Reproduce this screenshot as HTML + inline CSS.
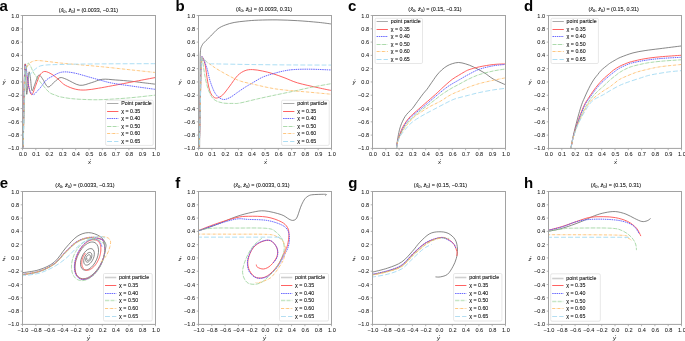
<!DOCTYPE html>
<html><head><meta charset="utf-8"><style>
html,body{margin:0;padding:0;background:#fff;width:685px;height:341px;overflow:hidden;font-family:"Liberation Sans", sans-serif;}
svg{display:block;} .t{will-change:transform;}
</style></head><body>
<svg width="685" height="341" viewBox="0 0 685 341" font-family='"Liberation Sans", sans-serif'><clipPath id="c0"><rect x="22.5" y="15.5" width="133.0" height="132.9"/></clipPath>
<g clip-path="url(#c0)" fill="none" stroke-linejoin="round">
<path d="M23.03,151.72C23.14,145.63 23.48,127.36 23.70,115.18C23.92,102.99 24.14,87.16 24.36,78.63C24.58,70.10 24.81,65.12 25.03,64.01C25.25,62.90 25.43,67.00 25.69,71.98C25.96,76.97 26.27,91.70 26.62,93.91C26.98,96.13 27.42,88.93 27.82,85.27C28.22,81.62 28.57,73.09 29.02,71.98C29.46,70.88 29.99,75.53 30.48,78.63C30.97,81.73 31.28,89.48 31.94,90.59C32.61,91.70 33.38,87.82 34.47,85.27C35.56,82.73 37.13,76.41 38.46,75.30C39.79,74.20 40.90,76.69 42.45,78.63C44.00,80.57 46.00,86.16 47.77,86.93C49.54,87.71 51.09,84.81 53.09,83.28C55.09,81.75 57.52,78.43 59.74,77.76C61.96,77.10 63.06,78.04 66.39,79.29C69.72,80.54 75.48,84.72 79.69,85.27C83.90,85.83 87.89,83.61 91.66,82.61C95.43,81.62 98.31,79.73 102.30,79.29C106.29,78.85 110.81,79.64 115.60,79.96C120.39,80.28 126.59,80.78 131.03,81.22C135.46,81.66 138.12,82.12 142.20,82.61C146.28,83.11 153.28,83.94 155.50,84.21" stroke="#606060" stroke-width="0.75"/>
<path d="M23.03,151.72C23.14,145.63 23.48,127.36 23.70,115.18C23.92,102.99 24.10,87.10 24.36,78.63C24.63,70.16 24.94,65.45 25.29,64.34C25.65,63.23 25.85,67.94 26.49,71.98C27.13,76.02 28.24,84.83 29.15,88.59C30.06,92.36 30.83,95.13 31.94,94.58C33.05,94.02 34.49,88.48 35.80,85.27C37.11,82.06 38.28,77.61 39.79,75.30C41.30,73.00 42.65,71.51 44.84,71.45C47.04,71.40 50.47,73.44 52.96,74.97C55.44,76.50 57.68,78.90 59.74,80.62C61.80,82.34 62.67,83.83 65.33,85.27C67.99,86.71 72.29,88.47 75.70,89.26C79.11,90.05 82.04,90.16 85.81,89.99C89.58,89.82 93.85,88.98 98.31,88.26C102.77,87.54 106.33,86.83 112.54,85.67C118.75,84.51 128.39,82.65 135.55,81.29C142.71,79.92 152.18,78.13 155.50,77.50" stroke="#ff5a5a" stroke-width="0.95"/>
<path d="M23.03,151.72C23.16,145.63 23.59,127.36 23.83,115.18C24.07,102.99 24.21,86.99 24.50,78.63C24.78,70.27 25.12,65.56 25.56,65.01C26.00,64.45 26.67,71.93 27.16,75.30C27.64,78.68 27.93,82.50 28.48,85.27C29.04,88.04 29.64,90.37 30.48,91.92C31.32,93.47 32.43,94.69 33.54,94.58C34.65,94.46 35.93,92.47 37.13,91.25C38.33,90.03 39.17,89.15 40.72,87.27C42.27,85.38 44.40,81.84 46.44,79.96C48.48,78.07 50.76,77.19 52.96,75.97C55.15,74.75 57.37,73.32 59.61,72.65C61.85,71.97 63.71,71.81 66.39,71.92C69.07,72.03 72.15,72.53 75.70,73.31C79.25,74.10 83.68,75.53 87.67,76.63C91.66,77.74 95.49,78.86 99.64,79.96C103.79,81.05 106.56,82.11 112.54,83.21C118.53,84.32 128.39,85.57 135.55,86.60C142.71,87.63 152.18,88.93 155.50,89.39" stroke="#5050ff" stroke-width="0.85" stroke-dasharray="1.5 0.7"/>
<path d="M23.03,151.72C23.21,145.63 23.74,126.80 24.10,115.18C24.45,103.55 24.76,89.70 25.16,81.95C25.56,74.20 26.02,71.78 26.49,68.66C26.96,65.54 27.29,63.65 27.95,63.21C28.62,62.77 29.62,64.54 30.48,66.00C31.34,67.46 32.25,70.32 33.14,71.98C34.03,73.64 34.69,74.40 35.80,75.97C36.91,77.54 38.24,79.42 39.79,81.42C41.34,83.41 43.40,86.01 45.11,87.93C46.82,89.85 48.26,91.70 50.03,92.91C51.80,94.13 54.15,94.61 55.75,95.24C57.35,95.87 56.99,96.14 59.61,96.70C62.22,97.27 66.99,98.15 71.44,98.63C75.90,99.11 81.20,99.39 86.34,99.56C91.48,99.73 95.21,99.90 102.30,99.63C109.39,99.35 120.03,98.65 128.90,97.90C137.77,97.14 151.07,95.57 155.50,95.11" stroke="#8ccc8c" stroke-width="0.72" stroke-dasharray="4 0.6 0.3 0.6"/>
<path d="M23.03,151.72C23.16,145.63 23.56,127.91 23.83,115.18C24.10,102.44 24.38,83.39 24.63,75.30C24.87,67.22 24.98,68.00 25.29,66.67C25.60,65.34 25.96,67.66 26.49,67.33C27.02,67.00 27.80,65.50 28.48,64.67C29.17,63.84 29.62,62.99 30.61,62.35C31.61,61.70 33.12,61.12 34.47,60.82C35.82,60.52 36.29,60.41 38.73,60.55C41.16,60.70 45.38,61.26 49.10,61.68C52.82,62.10 55.53,62.52 61.07,63.08C66.61,63.63 75.48,64.39 82.35,65.01C89.22,65.63 94.54,66.02 102.30,66.80C110.06,67.57 120.03,68.70 128.90,69.66C137.77,70.61 151.07,72.04 155.50,72.51" stroke="#ffbb66" stroke-width="0.82" stroke-dasharray="3.1 0.85 0.35 0.85"/>
<path d="M23.03,151.72C23.16,145.63 23.56,127.91 23.83,115.18C24.10,102.44 24.38,83.50 24.63,75.30C24.87,67.11 24.98,66.22 25.29,66.00C25.60,65.78 25.96,72.20 26.49,73.98C27.02,75.75 27.58,76.92 28.48,76.63C29.39,76.35 30.72,73.58 31.94,72.25C33.16,70.92 34.34,69.73 35.80,68.66C37.26,67.59 38.50,66.45 40.72,65.80C42.94,65.16 45.95,65.02 49.10,64.81C52.25,64.60 55.17,64.65 59.61,64.54C64.04,64.43 68.58,64.25 75.70,64.14C82.82,64.03 93.43,63.94 102.30,63.88C111.17,63.81 120.03,63.78 128.90,63.74C137.77,63.71 151.07,63.69 155.50,63.68" stroke="#a4daf3" stroke-width="0.9" stroke-dasharray="4.9 2.1"/>
</g>
<rect x="22.5" y="15.5" width="133.0" height="132.9" fill="none" stroke="#a2a2a2" stroke-width="1.0"/>
<path d="M22.50,148.4v1.8M35.80,148.4v1.8M49.10,148.4v1.8M62.40,148.4v1.8M75.70,148.4v1.8M89.00,148.4v1.8M102.30,148.4v1.8M115.60,148.4v1.8M128.90,148.4v1.8M142.20,148.4v1.8M155.50,148.4v1.8M22.5,15.50h-1.8M22.5,28.79h-1.8M22.5,42.08h-1.8M22.5,55.37h-1.8M22.5,68.66h-1.8M22.5,81.95h-1.8M22.5,95.24h-1.8M22.5,108.53h-1.8M22.5,121.82h-1.8M22.5,135.11h-1.8M22.5,148.40h-1.8" stroke="#a2a2a2" stroke-width="0.8"/>
<rect x="105.6" y="100.2" width="47.6" height="45.2" rx="1.3" fill="#fff" fill-opacity="0.85" stroke="#d6d6d6" stroke-width="0.6"/>
<path d="M107.10,103.50h11.3" stroke="#a0a0a0" stroke-width="0.9"/>
<path d="M107.10,111.50h11.3" stroke="#ff5a5a" stroke-width="0.95"/>
<path d="M107.10,118.50h11.3" stroke="#5050ff" stroke-width="0.85" stroke-dasharray="1.5 0.7"/>
<path d="M107.10,126.50h11.3" stroke="#8ccc8c" stroke-width="0.72" stroke-dasharray="4 0.6 0.3 0.6"/>
<path d="M107.10,133.50h11.3" stroke="#ffbb66" stroke-width="0.82" stroke-dasharray="3.1 0.85 0.35 0.85"/>
<path d="M107.10,141.50h11.3" stroke="#a4daf3" stroke-width="0.9" stroke-dasharray="4.9 2.1"/>
<clipPath id="c1"><rect x="198.5" y="15.5" width="133.0" height="132.9"/></clipPath>
<g clip-path="url(#c1)" fill="none" stroke-linejoin="round">
<path d="M199.56,151.72C199.61,145.63 199.74,127.91 199.83,115.18C199.92,102.44 200.01,85.82 200.10,75.30C200.18,64.79 200.05,57.08 200.36,52.11C200.67,47.15 201.23,47.24 201.96,45.54C202.69,43.83 203.29,43.46 204.75,41.88C206.21,40.30 208.52,38.23 210.74,36.03C212.95,33.84 215.61,30.56 218.05,28.72C220.49,26.89 222.68,26.04 225.37,25.00C228.05,23.96 230.73,23.14 234.14,22.48C237.56,21.81 241.81,21.40 245.85,21.02C249.88,20.63 253.14,20.34 258.35,20.15C263.56,19.96 270.56,19.80 277.10,19.89C283.64,19.97 290.74,20.27 297.58,20.68C304.43,21.09 312.55,21.79 318.20,22.34C323.85,22.90 329.28,23.73 331.50,24.01" stroke="#606060" stroke-width="0.75"/>
<path d="M199.16,151.72C199.32,145.63 199.81,127.91 200.10,115.18C200.38,102.44 200.63,84.61 200.89,75.30C201.16,66.00 201.45,62.40 201.69,59.36C201.94,56.31 201.80,56.23 202.36,57.03C202.91,57.83 204.13,60.02 205.02,64.14C205.90,68.26 206.79,77.05 207.68,81.75C208.56,86.45 209.30,89.74 210.34,92.32C211.38,94.90 212.75,96.30 213.93,97.23C215.10,98.16 215.92,98.29 217.39,97.90C218.85,97.51 220.64,96.88 222.71,94.91C224.77,92.94 227.27,89.29 229.75,86.07C232.24,82.85 235.05,78.14 237.60,75.57C240.15,73.00 242.57,71.65 245.05,70.65C247.53,69.66 249.62,69.53 252.50,69.59C255.38,69.65 258.93,70.30 262.34,70.99C265.75,71.67 269.21,72.55 272.98,73.71C276.75,74.87 280.85,76.43 284.95,77.96C289.05,79.49 292.04,81.25 297.58,82.88C303.13,84.51 312.55,86.46 318.20,87.73C323.85,89.00 329.28,90.06 331.50,90.52" stroke="#ff5a5a" stroke-width="0.95"/>
<path d="M199.16,151.72C199.32,145.63 199.81,127.91 200.10,115.18C200.38,102.44 200.63,84.61 200.89,75.30C201.16,66.00 201.43,62.35 201.69,59.36C201.96,56.37 201.65,55.99 202.49,57.36C203.33,58.74 205.44,63.53 206.75,67.60C208.05,71.66 208.85,77.34 210.34,81.75C211.82,86.16 213.60,91.11 215.66,94.04C217.72,96.98 220.36,98.76 222.71,99.36C225.06,99.96 227.27,98.81 229.75,97.63C232.24,96.46 235.05,94.04 237.60,92.32C240.15,90.59 242.57,88.84 245.05,87.27C247.53,85.69 249.62,84.54 252.50,82.88C255.38,81.22 258.93,78.83 262.34,77.30C265.75,75.77 269.43,74.76 272.98,73.71C276.53,72.66 280.21,71.67 283.62,70.99C287.03,70.30 289.07,69.89 293.46,69.59C297.85,69.29 303.61,69.13 309.95,69.19C316.29,69.26 327.91,69.86 331.50,69.99" stroke="#5050ff" stroke-width="0.85" stroke-dasharray="1.5 0.7"/>
<path d="M199.16,151.72C199.32,145.63 199.81,127.91 200.10,115.18C200.38,102.44 200.63,84.16 200.89,75.30C201.16,66.44 201.47,64.78 201.69,62.02C201.91,59.25 201.67,56.29 202.22,58.69C202.78,61.10 203.95,71.13 205.02,76.43C206.08,81.74 207.12,86.70 208.61,90.52C210.09,94.34 211.58,97.29 213.93,99.36C216.28,101.43 219.49,102.27 222.71,102.95C225.92,103.62 230.33,103.40 233.21,103.41C236.09,103.42 235.94,103.77 240.00,103.01C244.05,102.26 251.68,100.22 257.55,98.89C263.43,97.57 269.37,96.29 275.24,95.04C281.12,93.79 286.75,92.68 292.80,91.39C298.85,90.09 305.10,88.56 311.55,87.27C318.00,85.97 328.18,84.22 331.50,83.61" stroke="#8ccc8c" stroke-width="0.72" stroke-dasharray="4 0.6 0.3 0.6"/>
<path d="M199.16,151.72C199.32,145.63 199.81,127.91 200.10,115.18C200.38,102.44 200.63,84.50 200.89,75.30C201.16,66.11 201.47,62.90 201.69,60.02C201.91,57.14 201.07,57.50 202.22,58.03C203.38,58.56 205.79,61.16 208.61,63.21C211.42,65.26 214.28,67.52 219.12,70.32C223.95,73.12 232.04,77.74 237.60,80.02C243.17,82.30 245.91,82.49 252.50,84.01C259.08,85.53 267.53,87.75 277.10,89.13C286.68,90.50 300.89,91.40 309.95,92.25C319.02,93.10 327.91,93.91 331.50,94.24" stroke="#ffbb66" stroke-width="0.82" stroke-dasharray="3.1 0.85 0.35 0.85"/>
<path d="M199.16,151.72C199.32,145.63 199.81,127.91 200.10,115.18C200.38,102.44 200.63,84.61 200.89,75.30C201.16,66.00 201.45,62.35 201.69,59.36C201.94,56.37 201.51,56.88 202.36,57.36C203.20,57.85 205.50,61.22 206.75,62.28C207.99,63.34 208.34,63.48 209.81,63.74C211.27,64.01 208.54,63.74 215.52,63.88C222.51,64.01 239.02,64.36 251.70,64.54C264.38,64.72 278.30,64.85 291.60,64.94C304.90,65.03 324.85,65.05 331.50,65.07" stroke="#a4daf3" stroke-width="0.9" stroke-dasharray="4.9 2.1"/>
</g>
<rect x="198.5" y="15.5" width="133.0" height="132.9" fill="none" stroke="#a2a2a2" stroke-width="1.0"/>
<path d="M198.50,148.4v1.8M211.80,148.4v1.8M225.10,148.4v1.8M238.40,148.4v1.8M251.70,148.4v1.8M265.00,148.4v1.8M278.30,148.4v1.8M291.60,148.4v1.8M304.90,148.4v1.8M318.20,148.4v1.8M331.50,148.4v1.8M198.5,15.50h-1.8M198.5,28.79h-1.8M198.5,42.08h-1.8M198.5,55.37h-1.8M198.5,68.66h-1.8M198.5,81.95h-1.8M198.5,95.24h-1.8M198.5,108.53h-1.8M198.5,121.82h-1.8M198.5,135.11h-1.8M198.5,148.40h-1.8" stroke="#a2a2a2" stroke-width="0.8"/>
<rect x="281.6" y="100.2" width="47.6" height="45.2" rx="1.3" fill="#fff" fill-opacity="0.85" stroke="#d6d6d6" stroke-width="0.6"/>
<path d="M283.10,103.50h11.3" stroke="#a0a0a0" stroke-width="0.9"/>
<path d="M283.10,111.50h11.3" stroke="#ff5a5a" stroke-width="0.95"/>
<path d="M283.10,118.50h11.3" stroke="#5050ff" stroke-width="0.85" stroke-dasharray="1.5 0.7"/>
<path d="M283.10,126.50h11.3" stroke="#8ccc8c" stroke-width="0.72" stroke-dasharray="4 0.6 0.3 0.6"/>
<path d="M283.10,133.50h11.3" stroke="#ffbb66" stroke-width="0.82" stroke-dasharray="3.1 0.85 0.35 0.85"/>
<path d="M283.10,141.50h11.3" stroke="#a4daf3" stroke-width="0.9" stroke-dasharray="4.9 2.1"/>
<clipPath id="c2"><rect x="372.5" y="15.5" width="133.0" height="132.9"/></clipPath>
<g clip-path="url(#c2)" fill="none" stroke-linejoin="round">
<path d="M396.44,149.06C396.57,147.85 396.84,144.50 397.24,141.75C397.64,139.01 398.30,135.13 398.83,132.58C399.37,130.04 399.81,128.37 400.43,126.47C401.05,124.58 401.78,122.88 402.56,121.22C403.33,119.56 404.13,117.94 405.08,116.50C406.04,115.06 407.06,113.91 408.28,112.58C409.50,111.25 411.11,110.04 412.40,108.53C413.69,107.02 414.88,105.07 415.99,103.55C417.10,102.02 417.79,101.08 419.05,99.36C420.31,97.64 422.24,94.93 423.57,93.25C424.90,91.56 425.97,90.63 427.03,89.26C428.09,87.89 428.85,86.61 429.96,85.01C431.06,83.40 432.51,81.30 433.68,79.62C434.85,77.95 435.68,76.58 437.00,74.97C438.33,73.37 440.00,71.48 441.66,69.99C443.32,68.49 445.21,67.05 446.98,66.00C448.75,64.95 450.37,64.26 452.30,63.68C454.23,63.09 456.33,62.45 458.55,62.48C460.77,62.51 463.10,63.12 465.60,63.88C468.10,64.63 470.43,65.49 473.58,67.00C476.73,68.50 481.21,70.91 484.49,72.91C487.77,74.92 489.76,77.04 493.26,79.03C496.77,81.01 503.46,83.84 505.50,84.81" stroke="#606060" stroke-width="0.75"/>
<path d="M396.44,149.06C396.62,147.85 396.95,144.19 397.50,141.75C398.06,139.32 398.94,136.77 399.76,134.45C400.59,132.12 401.32,130.00 402.43,127.80C403.53,125.60 405.15,123.04 406.42,121.22C407.68,119.41 408.74,118.24 410.01,116.90C411.27,115.56 411.56,115.35 414.00,113.18C416.43,111.01 421.09,106.98 424.64,103.88C428.18,100.78 432.44,97.12 435.28,94.58C438.11,92.03 439.84,90.28 441.66,88.59C443.48,86.91 444.41,86.03 446.18,84.48C447.96,82.92 450.22,80.82 452.30,79.29C454.38,77.76 456.69,76.52 458.68,75.30C460.68,74.09 462.54,72.92 464.27,71.98C466.00,71.04 466.51,70.52 469.06,69.66C471.61,68.79 475.53,67.65 479.56,66.80C483.60,65.95 488.94,65.03 493.26,64.54C497.59,64.05 503.46,63.99 505.50,63.88" stroke="#ff5a5a" stroke-width="0.95"/>
<path d="M396.44,149.06C396.62,147.85 396.93,144.08 397.50,141.75C398.08,139.43 399.01,137.33 399.90,135.11C400.78,132.90 401.67,130.68 402.82,128.47C403.98,126.25 405.44,123.70 406.81,121.82C408.19,119.94 409.70,118.55 411.07,117.17C412.44,115.78 412.62,115.56 415.06,113.51C417.50,111.46 421.93,108.03 425.70,104.88C429.47,101.72 433.90,97.68 437.67,94.58C441.44,91.47 444.61,88.79 448.31,86.27C452.01,83.74 456.56,81.36 459.88,79.42C463.21,77.49 465.05,76.32 468.26,74.64C471.47,72.96 475.00,70.80 479.17,69.32C483.33,67.85 488.88,66.62 493.26,65.80C497.65,64.98 503.46,64.64 505.50,64.41" stroke="#5050ff" stroke-width="0.85" stroke-dasharray="1.5 0.7"/>
<path d="M396.44,149.06C396.62,147.85 396.91,144.08 397.50,141.75C398.10,139.43 399.10,137.21 400.03,135.11C400.96,133.01 401.92,131.12 403.09,129.13C404.26,127.14 405.53,125.03 407.08,123.15C408.63,121.27 410.40,119.72 412.40,117.83C414.39,115.95 416.83,113.68 419.05,111.85C421.27,110.03 423.35,108.64 425.70,106.87C428.05,105.10 430.49,103.27 433.15,101.22C435.81,99.17 438.69,96.68 441.66,94.58C444.63,92.47 447.93,90.39 450.97,88.59C454.01,86.80 457.00,85.36 459.88,83.81C462.76,82.26 465.05,80.82 468.26,79.29C471.47,77.76 475.00,76.02 479.17,74.64C483.33,73.26 488.88,71.93 493.26,70.99C497.65,70.04 503.46,69.32 505.50,68.99" stroke="#8ccc8c" stroke-width="0.72" stroke-dasharray="4 0.6 0.3 0.6"/>
<path d="M396.44,149.06C396.64,147.85 396.99,144.08 397.64,141.75C398.28,139.43 399.28,137.21 400.30,135.11C401.32,133.01 402.40,131.12 403.75,129.13C405.11,127.14 406.70,125.14 408.41,123.15C410.12,121.16 412.00,118.94 414.00,117.17C415.99,115.40 417.72,114.29 420.38,112.52C423.04,110.74 426.61,108.42 429.96,106.54C433.30,104.65 437.05,103.16 440.46,101.22C443.88,99.28 447.20,96.65 450.44,94.91C453.67,93.17 456.91,92.06 459.88,90.79C462.85,89.51 465.05,88.46 468.26,87.27C471.47,86.07 475.00,84.77 479.17,83.61C483.33,82.45 488.88,81.25 493.26,80.29C497.65,79.33 503.46,78.24 505.50,77.83" stroke="#ffbb66" stroke-width="0.82" stroke-dasharray="3.1 0.85 0.35 0.85"/>
<path d="M396.44,149.06C396.66,147.85 397.10,143.97 397.77,141.75C398.44,139.54 399.32,137.66 400.43,135.77C401.54,133.89 402.98,132.23 404.42,130.46C405.86,128.69 407.48,126.75 409.07,125.14C410.67,123.54 411.67,122.48 414.00,120.82C416.32,119.16 419.85,117.01 423.04,115.18C426.23,113.34 429.38,111.79 433.15,109.79C436.92,107.80 442.01,105.03 445.65,103.21C449.29,101.40 451.13,100.22 454.96,98.89C458.79,97.57 464.62,96.29 468.66,95.24C472.69,94.19 475.07,93.47 479.17,92.58C483.27,91.70 488.88,90.63 493.26,89.92C497.65,89.22 503.46,88.59 505.50,88.33" stroke="#a4daf3" stroke-width="0.9" stroke-dasharray="4.9 2.1"/>
</g>
<rect x="372.5" y="15.5" width="133.0" height="132.9" fill="none" stroke="#a2a2a2" stroke-width="1.0"/>
<path d="M372.50,148.4v1.8M385.80,148.4v1.8M399.10,148.4v1.8M412.40,148.4v1.8M425.70,148.4v1.8M439.00,148.4v1.8M452.30,148.4v1.8M465.60,148.4v1.8M478.90,148.4v1.8M492.20,148.4v1.8M505.50,148.4v1.8M372.5,15.50h-1.8M372.5,28.79h-1.8M372.5,42.08h-1.8M372.5,55.37h-1.8M372.5,68.66h-1.8M372.5,81.95h-1.8M372.5,95.24h-1.8M372.5,108.53h-1.8M372.5,121.82h-1.8M372.5,135.11h-1.8M372.5,148.40h-1.8" stroke="#a2a2a2" stroke-width="0.8"/>
<rect x="375.1" y="18.3" width="47.4" height="45.2" rx="1.3" fill="#fff" fill-opacity="0.85" stroke="#d6d6d6" stroke-width="0.6"/>
<path d="M376.60,21.50h11.3" stroke="#a0a0a0" stroke-width="0.9"/>
<path d="M376.60,29.50h11.3" stroke="#ff5a5a" stroke-width="0.95"/>
<path d="M376.60,36.50h11.3" stroke="#5050ff" stroke-width="0.85" stroke-dasharray="1.5 0.7"/>
<path d="M376.60,44.50h11.3" stroke="#8ccc8c" stroke-width="0.72" stroke-dasharray="4 0.6 0.3 0.6"/>
<path d="M376.60,51.50h11.3" stroke="#ffbb66" stroke-width="0.82" stroke-dasharray="3.1 0.85 0.35 0.85"/>
<path d="M376.60,59.50h11.3" stroke="#a4daf3" stroke-width="0.9" stroke-dasharray="4.9 2.1"/>
<clipPath id="c3"><rect x="548.5" y="15.5" width="133.0" height="132.9"/></clipPath>
<g clip-path="url(#c3)" fill="none" stroke-linejoin="round">
<path d="M570.84,149.06C571.11,147.51 571.89,142.64 572.44,139.76C572.99,136.88 573.55,134.45 574.17,131.79C574.79,129.13 575.39,126.80 576.16,123.81C576.94,120.82 577.89,117.10 578.82,113.85C579.75,110.59 580.82,106.94 581.75,104.28C582.68,101.62 583.52,99.95 584.41,97.90C585.30,95.85 586.07,94.09 587.07,91.98C588.07,89.88 589.22,87.42 590.39,85.27C591.57,83.12 592.90,80.86 594.12,79.09C595.34,77.32 596.54,76.10 597.71,74.64C598.88,73.18 599.53,71.93 601.17,70.32C602.81,68.72 606.04,66.22 607.55,65.01C609.06,63.79 608.93,63.84 610.21,63.01C611.50,62.18 613.51,60.99 615.27,60.02C617.02,59.06 617.77,58.42 620.72,57.23C623.67,56.05 628.90,54.02 632.96,52.91C637.01,51.80 640.56,51.29 645.06,50.59C649.56,49.88 653.88,49.43 659.95,48.66C666.03,47.88 677.91,46.39 681.50,45.93" stroke="#606060" stroke-width="0.75"/>
<path d="M570.84,149.06C571.11,147.62 571.84,143.19 572.44,140.43C573.04,137.66 573.70,135.11 574.43,132.45C575.17,129.79 575.83,127.47 576.83,124.48C577.83,121.49 579.11,117.88 580.42,114.51C581.73,111.14 583.35,106.99 584.68,104.28C586.01,101.56 587.23,100.08 588.40,98.23C589.57,96.38 590.51,94.95 591.73,93.18C592.94,91.41 594.36,89.36 595.72,87.60C597.07,85.84 598.40,84.22 599.84,82.61C601.28,81.01 602.79,79.44 604.36,77.96C605.93,76.49 607.73,75.11 609.28,73.78C610.83,72.45 612.01,71.20 613.67,69.99C615.33,68.78 617.46,67.51 619.26,66.53C621.05,65.56 622.43,64.95 624.44,64.14C626.46,63.33 627.92,62.59 631.36,61.68C634.79,60.77 640.29,59.50 645.06,58.69C649.82,57.88 653.88,57.41 659.95,56.83C666.03,56.26 677.91,55.50 681.50,55.24" stroke="#ff5a5a" stroke-width="0.95"/>
<path d="M570.84,149.06C571.11,147.62 571.82,143.19 572.44,140.43C573.06,137.66 573.79,135.11 574.57,132.45C575.34,129.79 576.05,127.47 577.10,124.48C578.14,121.49 579.47,117.88 580.82,114.51C582.17,111.14 583.83,106.94 585.21,104.28C586.58,101.62 587.82,100.35 589.07,98.56C590.31,96.78 591.44,95.24 592.66,93.58C593.88,91.92 594.98,90.31 596.38,88.59C597.78,86.88 599.48,84.88 601.03,83.28C602.59,81.67 604.14,80.34 605.69,78.96C607.24,77.58 608.79,76.25 610.35,74.97C611.90,73.70 613.51,72.43 615.00,71.32C616.49,70.21 617.68,69.25 619.26,68.33C620.83,67.41 622.43,66.67 624.44,65.80C626.46,64.94 627.92,64.05 631.36,63.14C634.79,62.24 640.29,61.12 645.06,60.35C649.82,59.59 653.88,59.08 659.95,58.56C666.03,58.04 677.91,57.45 681.50,57.23" stroke="#5050ff" stroke-width="0.85" stroke-dasharray="1.5 0.7"/>
<path d="M570.84,149.06C571.11,147.62 571.80,143.19 572.44,140.43C573.08,137.66 573.86,135.11 574.70,132.45C575.54,129.79 576.32,127.47 577.49,124.48C578.67,121.49 580.15,117.88 581.75,114.51C583.35,111.14 585.30,107.21 587.07,104.28C588.84,101.34 590.62,99.07 592.39,96.90C594.16,94.73 595.85,93.05 597.71,91.25C599.57,89.46 601.57,87.96 603.56,86.14C605.56,84.31 607.77,81.98 609.68,80.29C611.59,78.59 613.40,77.24 615.00,75.97C616.60,74.70 617.68,73.70 619.26,72.65C620.83,71.59 622.43,70.65 624.44,69.66C626.46,68.66 627.92,67.72 631.36,66.67C634.79,65.61 640.29,64.23 645.06,63.34C649.82,62.46 653.88,61.95 659.95,61.35C666.03,60.75 677.91,60.02 681.50,59.76" stroke="#8ccc8c" stroke-width="0.72" stroke-dasharray="4 0.6 0.3 0.6"/>
<path d="M570.84,149.06C571.11,147.62 571.78,143.19 572.44,140.43C573.11,137.66 573.95,135.11 574.83,132.45C575.72,129.79 576.50,127.47 577.76,124.48C579.02,121.49 580.69,117.88 582.41,114.51C584.14,111.14 586.63,106.66 588.13,104.28C589.64,101.90 590.08,101.62 591.46,100.22C592.83,98.83 594.36,97.48 596.38,95.90C598.40,94.33 601.26,92.34 603.56,90.79C605.87,89.24 607.60,88.46 610.21,86.60C612.83,84.74 616.33,81.45 619.26,79.62C622.18,77.80 624.93,76.86 627.77,75.64C630.61,74.42 633.40,73.27 636.28,72.31C639.16,71.36 641.11,70.84 645.06,69.92C649.00,69.00 653.88,67.71 659.95,66.80C666.03,65.89 677.91,64.86 681.50,64.47" stroke="#ffbb66" stroke-width="0.82" stroke-dasharray="3.1 0.85 0.35 0.85"/>
<path d="M570.84,149.06C571.11,147.62 571.75,143.19 572.44,140.43C573.13,137.66 574.04,135.11 574.97,132.45C575.90,129.79 576.67,127.47 578.03,124.48C579.38,121.49 581.17,117.88 583.08,114.51C584.99,111.14 587.62,106.77 589.46,104.28C591.30,101.79 592.52,100.79 594.12,99.56C595.72,98.33 597.47,97.73 599.04,96.90C600.61,96.07 601.70,95.63 603.56,94.58C605.42,93.52 607.60,92.08 610.21,90.59C612.83,89.09 616.33,87.00 619.26,85.60C622.18,84.21 624.04,83.54 627.77,82.22C631.49,80.89 637.79,78.84 641.60,77.63C645.41,76.42 646.21,75.91 650.64,74.97C655.08,74.03 663.06,72.70 668.20,71.98C673.34,71.26 679.28,70.88 681.50,70.65" stroke="#a4daf3" stroke-width="0.9" stroke-dasharray="4.9 2.1"/>
</g>
<rect x="548.5" y="15.5" width="133.0" height="132.9" fill="none" stroke="#a2a2a2" stroke-width="1.0"/>
<path d="M548.50,148.4v1.8M561.80,148.4v1.8M575.10,148.4v1.8M588.40,148.4v1.8M601.70,148.4v1.8M615.00,148.4v1.8M628.30,148.4v1.8M641.60,148.4v1.8M654.90,148.4v1.8M668.20,148.4v1.8M681.50,148.4v1.8M548.5,15.50h-1.8M548.5,28.79h-1.8M548.5,42.08h-1.8M548.5,55.37h-1.8M548.5,68.66h-1.8M548.5,81.95h-1.8M548.5,95.24h-1.8M548.5,108.53h-1.8M548.5,121.82h-1.8M548.5,135.11h-1.8M548.5,148.40h-1.8" stroke="#a2a2a2" stroke-width="0.8"/>
<rect x="551.0" y="18.3" width="47.4" height="45.2" rx="1.3" fill="#fff" fill-opacity="0.85" stroke="#d6d6d6" stroke-width="0.6"/>
<path d="M552.50,21.50h11.3" stroke="#a0a0a0" stroke-width="0.9"/>
<path d="M552.50,29.50h11.3" stroke="#ff5a5a" stroke-width="0.95"/>
<path d="M552.50,36.50h11.3" stroke="#5050ff" stroke-width="0.85" stroke-dasharray="1.5 0.7"/>
<path d="M552.50,44.50h11.3" stroke="#8ccc8c" stroke-width="0.72" stroke-dasharray="4 0.6 0.3 0.6"/>
<path d="M552.50,51.50h11.3" stroke="#ffbb66" stroke-width="0.82" stroke-dasharray="3.1 0.85 0.35 0.85"/>
<path d="M552.50,59.50h11.3" stroke="#a4daf3" stroke-width="0.9" stroke-dasharray="4.9 2.1"/>
<clipPath id="c4"><rect x="22.5" y="191.5" width="133.0" height="132.89999999999998"/></clipPath>
<g clip-path="url(#c4)" fill="none" stroke-linejoin="round">
<path d="M21.17,272.90C24.14,272.38 33.47,271.57 38.99,269.78C44.51,267.98 49.83,265.78 54.29,262.14C58.74,258.49 61.92,252.20 65.72,247.92C69.53,243.63 73.28,238.97 77.10,236.42C80.91,233.87 84.79,232.63 88.60,232.63C92.41,232.63 97.14,234.60 99.97,236.42C102.81,238.24 104.70,241.45 105.62,243.54C106.55,245.63 105.71,247.12 105.52,248.98C105.32,250.85 104.94,252.81 104.43,254.72C103.93,256.62 103.25,258.58 102.48,260.41C101.70,262.25 100.78,264.07 99.79,265.74C98.81,267.41 97.69,269.00 96.56,270.41C95.43,271.82 94.20,273.11 92.99,274.18C91.78,275.26 90.51,276.18 89.30,276.88C88.08,277.59 86.85,278.10 85.69,278.40C84.54,278.70 83.41,278.79 82.39,278.69C81.36,278.58 80.39,278.26 79.55,277.78C78.71,277.30 77.95,276.60 77.32,275.78C76.70,274.96 76.19,273.95 75.82,272.85C75.44,271.75 75.20,270.48 75.08,269.18C74.97,267.88 74.99,266.45 75.13,265.02C75.27,263.59 75.55,262.08 75.93,260.62C76.31,259.16 76.82,257.66 77.41,256.25C77.99,254.83 78.69,253.43 79.44,252.14C80.19,250.86 81.04,249.62 81.91,248.53C82.77,247.44 83.71,246.44 84.64,245.60C85.57,244.76 86.54,244.04 87.47,243.49C88.41,242.94 89.36,242.53 90.24,242.29C91.13,242.05 92.00,241.96 92.80,242.03C93.59,242.09 94.34,242.32 94.99,242.68C95.65,243.04 96.24,243.56 96.72,244.18C97.21,244.80 97.61,245.57 97.90,246.41C98.20,247.24 98.40,248.21 98.49,249.20C98.59,250.20 98.58,251.29 98.48,252.38C98.38,253.47 98.17,254.63 97.89,255.75C97.61,256.87 97.22,258.03 96.78,259.11C96.34,260.20 95.80,261.28 95.23,262.28C94.66,263.27 94.02,264.22 93.35,265.07C92.69,265.91 91.97,266.69 91.26,267.34C90.55,267.99 89.81,268.55 89.09,268.99C88.37,269.42 87.64,269.74 86.96,269.94C86.28,270.14 85.60,270.21 84.99,270.17C84.38,270.13 83.80,269.97 83.29,269.70C82.79,269.43 82.33,269.04 81.95,268.58C81.57,268.11 81.26,267.53 81.02,266.89C80.79,266.26 80.63,265.52 80.55,264.76C80.47,264.00 80.47,263.17 80.54,262.33C80.61,261.50 80.76,260.61 80.97,259.75C81.19,258.89 81.47,258.00 81.81,257.17C82.14,256.33 82.55,255.50 82.98,254.73C83.42,253.96 83.91,253.23 84.42,252.57C84.92,251.92 85.47,251.32 86.02,250.81C86.56,250.30 87.13,249.86 87.68,249.52C88.23,249.18 88.80,248.93 89.32,248.77C89.85,248.61 90.37,248.54 90.84,248.57C91.31,248.59 91.76,248.71 92.15,248.91C92.55,249.10 92.90,249.40 93.20,249.75C93.49,250.10 93.74,250.54 93.92,251.02C94.11,251.51 94.23,252.06 94.30,252.64C94.37,253.22 94.37,253.86 94.32,254.50C94.27,255.14 94.16,255.82 94.01,256.48C93.85,257.14 93.63,257.82 93.38,258.47C93.12,259.11 92.82,259.75 92.48,260.34C92.15,260.93 91.78,261.50 91.39,262.01C91.01,262.51 90.59,262.98 90.17,263.38C89.75,263.77 89.31,264.11 88.89,264.38C88.47,264.65 88.04,264.85 87.63,264.98C87.23,265.11 86.83,265.16 86.46,265.15C86.10,265.14 85.75,265.05 85.45,264.91C85.14,264.76 84.86,264.54 84.63,264.28C84.40,264.01 84.21,263.68 84.07,263.31C83.92,262.95 83.82,262.52 83.76,262.08C83.71,261.64 83.70,261.15 83.73,260.66C83.77,260.17 83.85,259.65 83.97,259.14C84.09,258.64 84.25,258.11 84.44,257.62C84.63,257.12 84.87,256.63 85.12,256.17C85.37,255.72 85.66,255.28 85.95,254.89C86.24,254.50 86.57,254.13 86.89,253.83C87.20,253.52 87.54,253.25 87.87,253.04C88.19,252.83 88.52,252.67 88.83,252.57C89.15,252.47 89.45,252.42 89.74,252.42C90.02,252.43 90.29,252.49 90.52,252.60C90.76,252.70 90.97,252.87 91.15,253.07C91.33,253.27 91.48,253.52 91.60,253.80C91.71,254.08 91.79,254.40 91.84,254.74C91.88,255.07 91.89,255.45 91.87,255.82C91.85,256.20 91.79,256.59 91.70,256.98C91.61,257.37 91.49,257.77 91.34,258.15C91.20,258.54 91.02,258.92 90.83,259.27C90.64,259.62 90.42,259.96 90.20,260.26C89.97,260.56 89.72,260.84 89.48,261.08C89.24,261.32 88.98,261.53 88.73,261.69C88.48,261.86 88.22,261.99 87.98,262.07C87.74,262.15 87.51,262.19 87.29,262.19C87.07,262.19 86.86,262.15 86.68,262.07C86.50,261.99 86.33,261.87 86.19,261.72C86.05,261.57 85.93,261.38 85.84,261.16C85.75,260.95 85.69,260.71 85.65,260.45C85.62,260.19 85.61,259.91 85.62,259.62C85.64,259.34 85.68,259.03 85.75,258.73C85.81,258.43 85.90,258.12 86.01,257.83C86.12,257.54 86.26,257.25 86.40,256.97C86.55,256.70 86.71,256.44 86.88,256.21C87.06,255.97 87.24,255.76 87.43,255.57C87.62,255.38 87.82,255.22 88.01,255.09C88.20,254.96 88.40,254.86 88.58,254.80C88.77,254.73 88.95,254.70 89.12,254.69C89.28,254.69 89.44,254.72 89.59,254.78C89.73,254.84 89.86,254.93 89.97,255.04C90.07,255.16 90.17,255.30 90.24,255.46C90.31,255.62 90.36,255.81 90.39,256.01C90.42,256.20 90.43,256.42 90.42,256.64C90.41,256.86 90.38,257.09 90.33,257.32C90.28,257.55 90.21,257.79 90.13,258.01C90.05,258.24 89.94,258.46 89.83,258.67C89.72,258.88 89.60,259.08 89.47,259.26C89.33,259.44 89.19,259.61 89.05,259.76C88.90,259.90 88.75,260.03 88.61,260.13C88.46,260.23 88.31,260.31 88.17,260.36C88.02,260.41 87.88,260.44 87.75,260.45C87.62,260.45 87.50,260.43 87.39,260.39C87.28,260.35 87.18,260.28 87.10,260.19C87.01,260.11 86.94,260.00 86.88,259.88C86.83,259.75 86.79,259.61 86.76,259.46C86.74,259.31 86.73,259.15 86.73,258.98C86.74,258.81 86.76,258.63 86.80,258.46C86.84,258.28 86.93,258.01 86.95,257.93" stroke="#606060" stroke-width="0.75"/>
<path d="M21.17,274.89C24.14,274.34 33.47,273.40 38.99,271.57C44.51,269.74 49.94,267.09 54.29,263.93C58.63,260.77 61.49,256.18 65.06,252.63C68.63,249.09 72.26,245.05 75.70,242.67C79.14,240.29 82.57,239.18 85.67,238.35C88.78,237.52 91.52,237.46 94.32,237.68C97.12,237.90 101.04,239.19 102.49,239.68C103.94,240.17 102.85,240.30 103.02,240.63C103.19,240.96 103.34,241.31 103.48,241.67C103.63,242.02 103.76,242.39 103.88,242.78C104.00,243.16 104.10,243.55 104.20,243.95C104.29,244.36 104.38,244.77 104.45,245.19C104.52,245.62 104.57,246.05 104.62,246.49C104.67,246.93 104.70,247.38 104.72,247.84C104.74,248.30 104.75,248.76 104.75,249.23C104.74,249.70 104.73,250.18 104.70,250.66C104.67,251.15 104.63,251.63 104.58,252.12C104.52,252.61 104.46,253.11 104.38,253.61C104.30,254.11 104.21,254.61 104.11,255.11C104.01,255.61 103.90,256.11 103.78,256.62C103.65,257.12 103.52,257.63 103.37,258.13C103.22,258.63 103.07,259.14 102.90,259.64C102.73,260.14 102.55,260.64 102.36,261.13C102.17,261.63 101.98,262.12 101.77,262.61C101.56,263.10 101.34,263.58 101.11,264.06C100.89,264.54 100.65,265.01 100.40,265.47C100.16,265.94 99.90,266.40 99.64,266.85C99.38,267.30 99.11,267.75 98.84,268.18C98.56,268.62 98.27,269.05 97.98,269.46C97.69,269.88 97.40,270.29 97.09,270.69C96.79,271.08 96.48,271.47 96.17,271.85C95.86,272.22 95.54,272.59 95.21,272.94C94.89,273.29 94.56,273.63 94.23,273.96C93.90,274.28 93.57,274.60 93.23,274.90C92.90,275.19 92.56,275.48 92.21,275.75C91.87,276.03 91.53,276.28 91.18,276.53C90.84,276.77 90.49,277.00 90.15,277.21C89.80,277.42 89.46,277.62 89.11,277.80C88.77,277.98 88.42,278.15 88.08,278.30C87.74,278.45 87.39,278.58 87.05,278.70C86.71,278.82 86.38,278.92 86.04,279.00C85.71,279.09 85.37,279.16 85.05,279.21C84.72,279.26 84.39,279.29 84.07,279.31C83.75,279.33 83.44,279.33 83.13,279.32C82.82,279.30 82.51,279.27 82.22,279.22C81.92,279.18 81.62,279.11 81.34,279.03C81.05,278.95 80.77,278.86 80.50,278.74C80.23,278.63 79.96,278.50 79.70,278.36C79.44,278.21 79.19,278.05 78.95,277.88C78.71,277.71 78.48,277.52 78.25,277.31C78.03,277.11 77.82,276.89 77.61,276.66C77.40,276.42 77.21,276.18 77.02,275.92C76.83,275.65 76.66,275.38 76.49,275.09C76.33,274.80 76.18,274.49 76.04,274.18C75.89,273.86 75.76,273.54 75.64,273.20C75.52,272.86 75.41,272.51 75.31,272.15C75.22,271.79 75.13,271.42 75.05,271.05C74.98,270.67 74.91,270.28 74.86,269.89C74.80,269.49 74.76,269.09 74.73,268.68C74.70,268.27 74.68,267.85 74.67,267.43C74.66,267.01 74.67,266.58 74.68,266.15C74.70,265.71 74.72,265.27 74.76,264.83C74.79,264.39 74.84,263.94 74.90,263.49C74.96,263.04 75.03,262.59 75.11,262.13C75.19,261.68 75.28,261.22 75.38,260.77C75.48,260.31 75.60,259.85 75.72,259.40C75.84,258.94 75.97,258.48 76.11,258.03C76.26,257.57 76.41,257.12 76.57,256.67C76.73,256.22 76.90,255.77 77.08,255.33C77.26,254.88 77.45,254.44 77.65,254.00C77.84,253.57 78.05,253.13 78.26,252.71C78.47,252.28 78.69,251.86 78.92,251.45C79.15,251.03 79.39,250.63 79.63,250.23C79.87,249.83 80.12,249.43 80.37,249.05C80.63,248.66 80.89,248.29 81.16,247.92C81.42,247.56 81.70,247.20 81.97,246.85C82.25,246.50 82.53,246.16 82.82,245.84C83.10,245.51 83.39,245.20 83.68,244.89C83.98,244.59 84.27,244.29 84.57,244.01C84.87,243.73 85.17,243.46 85.48,243.21C85.78,242.95 86.09,242.71 86.39,242.47C86.70,242.24 87.01,242.03 87.31,241.82C87.62,241.62 87.93,241.43 88.24,241.25C88.55,241.08 88.86,240.91 89.16,240.76C89.47,240.62 89.78,240.48 90.08,240.36C90.39,240.24 90.69,240.14 90.99,240.05C91.29,239.96 91.59,239.88 91.88,239.82C92.18,239.76 92.47,239.71 92.76,239.68C93.04,239.65 93.33,239.63 93.61,239.63C93.89,239.63 94.16,239.64 94.43,239.67C94.70,239.69 94.97,239.74 95.23,239.79C95.49,239.85 95.74,239.92 95.99,240.00C96.24,240.09 96.48,240.19 96.71,240.30C96.95,240.41 97.18,240.54 97.40,240.68C97.62,240.82 97.83,240.97 98.04,241.14C98.24,241.31 98.44,241.49 98.63,241.68C98.82,241.87 99.00,242.08 99.18,242.29C99.35,242.51 99.52,242.73 99.67,242.98C99.82,243.23 99.94,243.51 100.05,243.81C100.17,244.10 100.25,244.42 100.34,244.74C100.42,245.06 100.50,245.39 100.56,245.72C100.62,246.05 100.68,246.39 100.72,246.74C100.77,247.08 100.80,247.43 100.82,247.78C100.85,248.14 100.86,248.50 100.87,248.86C100.87,249.22 100.86,249.59 100.85,249.95C100.84,250.32 100.81,250.69 100.78,251.06C100.75,251.43 100.70,251.81 100.65,252.18C100.60,252.55 100.54,252.93 100.47,253.30C100.40,253.68 100.33,254.05 100.24,254.42C100.16,254.80 100.06,255.17 99.96,255.54C99.86,255.90 99.75,256.27 99.64,256.64C99.52,257.00 99.40,257.36 99.27,257.72C99.14,258.08 99.00,258.43 98.86,258.78C98.71,259.13 98.56,259.47 98.41,259.81C98.25,260.15 98.09,260.49 97.93,260.81C97.76,261.14 97.59,261.47 97.41,261.78C97.24,262.10 97.05,262.41 96.87,262.71C96.68,263.01 96.49,263.31 96.30,263.59C96.11,263.88 95.91,264.16 95.71,264.43C95.51,264.70 95.31,264.97 95.10,265.22C94.90,265.48 94.69,265.72 94.48,265.96C94.27,266.20 94.06,266.43 93.84,266.65C93.63,266.87 93.41,267.08 93.20,267.28C92.98,267.48 92.77,267.67 92.55,267.85C92.33,268.03 92.11,268.20 91.90,268.36C91.68,268.52 91.46,268.67 91.25,268.81C91.03,268.95 90.81,269.08 90.60,269.20C90.39,269.32 90.17,269.43 89.96,269.53C89.75,269.63 89.54,269.72 89.33,269.80C89.12,269.88 88.92,269.95 88.72,270.00C88.51,270.06 88.31,270.11 88.12,270.15C87.92,270.19 87.72,270.22 87.53,270.23C87.34,270.25 87.16,270.26 86.97,270.26C86.79,270.26 86.61,270.25 86.43,270.23C86.26,270.21 86.09,270.18 85.92,270.14C85.75,270.10 85.59,270.05 85.43,269.99C85.27,269.94 85.12,269.87 84.97,269.80C84.82,269.72 84.68,269.64 84.54,269.55C84.40,269.46 84.27,269.36 84.14,269.25C84.02,269.15 83.90,269.03 83.78,268.91C83.66,268.79 83.55,268.66 83.45,268.53C83.34,268.39 83.24,268.25 83.15,268.10C83.06,267.95 82.97,267.80 82.89,267.64C82.81,267.48 82.74,267.31 82.66,267.14C82.58,266.98 82.50,266.82 82.43,266.66C82.36,266.49 82.30,266.32 82.24,266.15C82.17,265.97 82.12,265.79 82.07,265.61C82.02,265.42 81.98,265.23 81.94,265.04C81.90,264.84 81.87,264.64 81.85,264.44C81.82,264.24 81.80,264.03 81.79,263.82C81.77,263.61 81.76,263.40 81.76,263.18C81.76,262.97 81.76,262.75 81.77,262.53C81.78,262.31 81.79,262.09 81.81,261.86C81.83,261.64 81.86,261.41 81.89,261.19C81.92,260.96 81.96,260.73 82.00,260.50C82.04,260.27 82.09,260.04 82.14,259.82C82.19,259.59 82.25,259.36 82.31,259.13C82.37,258.90 82.44,258.67 82.51,258.45C82.59,258.22 82.66,258.00 82.74,257.77C82.83,257.55 82.91,257.33 83.00,257.11C83.09,256.89 83.19,256.67 83.28,256.45C83.38,256.24 83.48,256.02 83.59,255.81C83.70,255.61 83.81,255.40 83.92,255.20C84.03,254.99 84.15,254.79 84.27,254.60C84.39,254.40 84.51,254.21 84.64,254.02C84.76,253.84 84.89,253.65 85.02,253.48C85.15,253.30 85.35,253.04 85.42,252.96" stroke="#ff5a5a" stroke-width="0.95"/>
<path d="M21.17,274.56C24.14,274.01 33.47,273.07 38.99,271.24C44.51,269.41 49.94,266.75 54.29,263.60C58.63,260.44 61.49,255.85 65.06,252.30C68.63,248.76 72.26,244.72 75.70,242.33C79.14,239.95 82.57,238.85 85.67,238.01C88.78,237.18 91.52,237.07 94.32,237.35C97.12,237.63 101.07,239.20 102.49,239.68C103.90,240.16 102.71,240.04 102.82,240.24C102.92,240.43 103.03,240.62 103.12,240.83C103.22,241.03 103.31,241.23 103.40,241.44C103.49,241.65 103.58,241.87 103.66,242.09C103.74,242.31 103.82,242.53 103.89,242.76C103.96,242.99 104.03,243.22 104.10,243.46C104.16,243.69 104.22,243.93 104.27,244.18C104.33,244.42 104.38,244.67 104.43,244.92C104.47,245.17 104.51,245.43 104.55,245.68C104.59,245.94 104.62,246.20 104.65,246.47C104.68,246.73 104.70,247.00 104.72,247.27C104.74,247.54 104.76,247.82 104.77,248.09C104.78,248.37 104.79,248.65 104.79,248.93C104.79,249.21 104.79,249.49 104.78,249.78C104.77,250.06 104.76,250.35 104.75,250.64C104.73,250.93 104.71,251.22 104.68,251.52C104.66,251.81 104.63,252.10 104.60,252.40C104.56,252.70 104.52,252.99 104.48,253.29C104.44,253.59 104.39,253.89 104.34,254.19C104.29,254.49 104.23,254.79 104.17,255.10C104.11,255.40 104.05,255.70 103.98,256.00C103.91,256.31 103.84,256.61 103.77,256.92C103.69,257.22 103.61,257.52 103.52,257.83C103.44,258.13 103.35,258.43 103.26,258.74C103.17,259.04 103.07,259.34 102.97,259.64C102.87,259.95 102.76,260.25 102.66,260.55C102.55,260.85 102.44,261.15 102.32,261.45C102.20,261.74 102.09,262.04 101.96,262.34C101.84,262.63 101.71,262.93 101.58,263.22C101.45,263.51 101.32,263.80 101.18,264.09C101.05,264.38 100.91,264.67 100.76,264.95C100.62,265.24 100.48,265.52 100.33,265.80C100.18,266.08 100.02,266.36 99.87,266.63C99.71,266.91 99.56,267.18 99.39,267.45C99.23,267.72 99.07,267.99 98.90,268.25C98.74,268.52 98.57,268.78 98.40,269.03C98.22,269.29 98.05,269.55 97.87,269.80C97.70,270.05 97.52,270.30 97.34,270.54C97.16,270.78 96.97,271.02 96.79,271.26C96.60,271.49 96.42,271.73 96.23,271.95C96.04,272.18 95.85,272.41 95.65,272.62C95.46,272.84 95.27,273.06 95.07,273.27C94.87,273.48 94.68,273.69 94.48,273.89C94.28,274.09 94.08,274.29 93.88,274.48C93.68,274.67 93.47,274.86 93.27,275.04C93.07,275.23 92.86,275.40 92.66,275.58C92.45,275.75 92.24,275.92 92.04,276.08C91.83,276.24 91.62,276.40 91.41,276.55C91.21,276.70 91.00,276.85 90.79,276.99C90.58,277.13 90.37,277.27 90.16,277.40C89.95,277.53 89.74,277.65 89.53,277.77C89.32,277.89 89.11,278.00 88.90,278.11C88.69,278.22 88.49,278.32 88.28,278.42C88.07,278.51 87.86,278.60 87.65,278.69C87.45,278.77 87.24,278.85 87.03,278.92C86.83,279.00 86.62,279.06 86.42,279.12C86.21,279.18 86.01,279.24 85.80,279.29C85.60,279.34 85.40,279.38 85.20,279.42C85.00,279.45 84.80,279.48 84.60,279.51C84.41,279.53 84.21,279.55 84.02,279.56C83.82,279.58 83.63,279.58 83.44,279.58C83.25,279.58 83.06,279.58 82.87,279.57C82.68,279.55 82.50,279.54 82.31,279.51C82.13,279.49 81.95,279.46 81.77,279.42C81.59,279.39 81.41,279.35 81.24,279.30C81.06,279.25 80.89,279.20 80.72,279.14C80.55,279.08 80.38,279.02 80.22,278.94C80.06,278.87 79.89,278.80 79.73,278.72C79.58,278.63 79.42,278.54 79.27,278.45C79.11,278.36 78.96,278.26 78.81,278.15C78.67,278.05 78.52,277.94 78.38,277.82C78.24,277.71 78.10,277.58 77.97,277.46C77.83,277.33 77.70,277.20 77.57,277.06C77.44,276.93 77.32,276.78 77.20,276.64C77.07,276.49 76.96,276.34 76.84,276.18C76.73,276.02 76.62,275.86 76.51,275.69C76.40,275.52 76.30,275.35 76.20,275.17C76.10,274.99 76.01,274.81 75.92,274.62C75.83,274.44 75.74,274.24 75.66,274.05C75.57,273.85 75.50,273.65 75.42,273.45C75.35,273.24 75.27,273.03 75.21,272.82C75.14,272.61 75.08,272.39 75.02,272.17C74.96,271.95 74.90,271.73 74.85,271.50C74.80,271.28 74.75,271.05 74.71,270.81C74.67,270.58 74.63,270.34 74.60,270.10C74.56,269.86 74.53,269.62 74.50,269.38C74.48,269.13 74.46,268.88 74.44,268.63C74.42,268.38 74.41,268.13 74.40,267.87C74.39,267.61 74.38,267.35 74.38,267.09C74.38,266.83 74.38,266.57 74.39,266.31C74.39,266.04 74.41,265.78 74.42,265.51C74.44,265.24 74.45,264.97 74.48,264.70C74.50,264.43 74.53,264.15 74.56,263.88C74.59,263.60 74.63,263.33 74.67,263.05C74.71,262.78 74.75,262.50 74.80,262.22C74.85,261.94 74.90,261.66 74.95,261.38C75.01,261.11 75.07,260.83 75.13,260.55C75.19,260.27 75.26,259.98 75.33,259.70C75.40,259.42 75.48,259.14 75.56,258.86C75.63,258.58 75.72,258.30 75.80,258.02C75.89,257.74 75.98,257.46 76.07,257.19C76.16,256.91 76.26,256.63 76.36,256.35C76.46,256.08 76.56,255.80 76.67,255.52C76.77,255.25 76.88,254.98 77.00,254.70C77.11,254.43 77.23,254.16 77.35,253.89C77.47,253.62 77.59,253.35 77.72,253.09C77.84,252.82 77.97,252.56 78.10,252.30C78.23,252.03 78.37,251.77 78.51,251.52C78.64,251.26 78.78,251.00 78.93,250.75C79.07,250.50 79.22,250.25 79.36,250.00C79.51,249.75 79.66,249.50 79.82,249.26C79.97,249.02 80.12,248.78 80.28,248.54C80.44,248.31 80.60,248.07 80.76,247.84C80.92,247.61 81.09,247.39 81.26,247.16C81.42,246.94 81.59,246.72 81.76,246.50C81.93,246.29 82.10,246.08 82.28,245.87C82.45,245.66 82.62,245.45 82.80,245.25C82.98,245.05 83.16,244.85 83.34,244.66C83.52,244.47 83.70,244.28 83.88,244.09C84.06,243.91 84.24,243.73 84.43,243.55C84.61,243.38 84.80,243.21 84.99,243.04C85.17,242.87 85.36,242.71 85.55,242.55C85.74,242.39 85.93,242.24 86.11,242.09C86.30,241.94 86.49,241.80 86.68,241.66C86.87,241.52 87.07,241.39 87.26,241.26C87.45,241.13 87.64,241.01 87.83,240.89C88.02,240.77 88.21,240.66 88.40,240.55C88.60,240.44 88.79,240.34 88.98,240.24C89.17,240.14 89.36,240.05 89.55,239.96C89.74,239.87 89.93,239.79 90.12,239.72C90.31,239.64 90.50,239.57 90.69,239.50C90.87,239.44 91.06,239.37 91.25,239.32C91.44,239.26 91.62,239.22 91.81,239.17C91.99,239.13 92.17,239.09 92.36,239.06C92.54,239.02 92.72,238.99 92.90,238.97C93.08,238.95 93.26,238.93 93.43,238.92C93.61,238.91 93.79,238.91 93.96,238.91C94.14,238.91 94.31,238.91 94.48,238.92C94.65,238.93 94.82,238.95 94.98,238.97C95.15,238.99 95.32,239.02 95.48,239.05C95.64,239.08 95.80,239.12 95.96,239.17C96.12,239.21 96.28,239.26 96.43,239.31C96.58,239.37 96.73,239.43 96.88,239.49C97.03,239.55 97.18,239.62 97.32,239.70C97.47,239.77 97.61,239.86 97.75,239.94C97.89,240.03 98.03,240.12 98.16,240.21C98.29,240.31 98.42,240.41 98.55,240.51C98.68,240.62 98.81,240.73 98.93,240.84C99.05,240.96 99.17,241.08 99.28,241.20C99.40,241.33 99.51,241.46 99.62,241.59C99.73,241.72 99.84,241.86 99.94,242.00C100.05,242.15 100.15,242.29 100.24,242.45C100.34,242.60 100.43,242.75 100.53,242.91C100.62,243.07 100.70,243.24 100.79,243.41C100.87,243.57 100.95,243.75 101.03,243.92C101.10,244.10 101.17,244.28 101.24,244.46C101.31,244.64 101.38,244.83 101.44,245.02C101.50,245.21 101.56,245.41 101.62,245.60C101.67,245.80 101.72,246.00 101.77,246.21C101.82,246.41 101.88,246.72 101.90,246.83" stroke="#5050ff" stroke-width="0.85" stroke-dasharray="1.5 0.7"/>
<path d="M21.17,274.89C24.14,274.37 33.47,273.54 38.99,271.77C44.51,270.00 49.94,267.34 54.29,264.26C58.63,261.18 61.49,256.79 65.06,253.30C68.63,249.81 72.26,245.77 75.70,243.33C79.14,240.89 82.35,239.45 85.67,238.68C89.00,237.90 92.66,237.90 95.65,238.68C98.64,239.45 102.27,242.83 103.63,243.33C104.99,243.83 103.71,241.80 103.78,241.67C103.86,241.54 103.98,242.26 104.07,242.57C104.16,242.87 104.24,243.19 104.32,243.50C104.39,243.82 104.46,244.14 104.52,244.47C104.58,244.79 104.64,245.12 104.68,245.46C104.73,245.79 104.77,246.13 104.80,246.48C104.84,246.82 104.86,247.17 104.88,247.52C104.90,247.87 104.92,248.22 104.92,248.58C104.93,248.94 104.93,249.30 104.92,249.66C104.91,250.03 104.90,250.39 104.88,250.76C104.86,251.13 104.83,251.50 104.79,251.87C104.76,252.24 104.71,252.62 104.67,252.99C104.62,253.37 104.56,253.74 104.50,254.12C104.44,254.50 104.37,254.88 104.30,255.26C104.22,255.63 104.14,256.01 104.05,256.39C103.96,256.77 103.87,257.15 103.77,257.53C103.67,257.91 103.56,258.29 103.45,258.67C103.34,259.04 103.22,259.42 103.09,259.80C102.97,260.17 102.84,260.55 102.70,260.92C102.57,261.29 102.42,261.66 102.28,262.03C102.13,262.40 101.97,262.77 101.82,263.13C101.66,263.49 101.49,263.86 101.32,264.21C101.16,264.57 100.98,264.93 100.80,265.28C100.62,265.63 100.44,265.98 100.25,266.33C100.06,266.67 99.87,267.01 99.67,267.35C99.47,267.69 99.27,268.02 99.06,268.35C98.86,268.68 98.65,269.01 98.43,269.32C98.22,269.64 98.00,269.96 97.78,270.27C97.55,270.58 97.33,270.88 97.10,271.18C96.87,271.48 96.64,271.77 96.40,272.06C96.17,272.35 95.93,272.63 95.69,272.91C95.44,273.18 95.20,273.45 94.95,273.72C94.71,273.98 94.46,274.24 94.20,274.49C93.95,274.74 93.70,274.98 93.44,275.22C93.19,275.45 92.93,275.68 92.67,275.91C92.41,276.13 92.15,276.34 91.89,276.55C91.63,276.76 91.36,276.96 91.10,277.15C90.83,277.35 90.57,277.53 90.30,277.71C90.04,277.89 89.77,278.06 89.50,278.22C89.23,278.38 88.97,278.54 88.70,278.68C88.43,278.83 88.16,278.97 87.89,279.10C87.63,279.23 87.36,279.35 87.09,279.47C86.83,279.58 86.56,279.68 86.29,279.78C86.03,279.88 85.76,279.97 85.50,280.05C85.24,280.13 84.98,280.20 84.72,280.26C84.45,280.33 84.19,280.38 83.94,280.43C83.68,280.47 83.42,280.51 83.17,280.54C82.92,280.57 82.66,280.59 82.42,280.60C82.17,280.62 81.92,280.62 81.67,280.62C81.43,280.61 81.19,280.60 80.95,280.58C80.71,280.56 80.47,280.53 80.24,280.49C80.01,280.45 79.78,280.40 79.55,280.35C79.32,280.29 79.10,280.23 78.88,280.16C78.66,280.09 78.44,280.01 78.23,279.92C78.02,279.84 77.81,279.74 77.61,279.64C77.40,279.53 77.20,279.42 77.01,279.30C76.81,279.19 76.62,279.06 76.43,278.93C76.24,278.79 76.06,278.65 75.88,278.50C75.71,278.35 75.53,278.20 75.36,278.03C75.19,277.87 75.03,277.70 74.87,277.52C74.71,277.35 74.56,277.16 74.41,276.97C74.26,276.78 74.12,276.58 73.98,276.38C73.84,276.18 73.71,275.97 73.58,275.75C73.46,275.53 73.33,275.31 73.22,275.08C73.10,274.85 72.99,274.62 72.89,274.38C72.78,274.14 72.68,273.90 72.59,273.65C72.49,273.39 72.41,273.14 72.32,272.88C72.24,272.62 72.17,272.35 72.10,272.08C72.03,271.81 71.96,271.54 71.90,271.26C71.84,270.98 71.79,270.70 71.74,270.41C71.70,270.12 71.66,269.83 71.62,269.54C71.59,269.24 71.56,268.94 71.54,268.64C71.51,268.34 71.50,268.04 71.49,267.73C71.48,267.42 71.47,267.11 71.47,266.80C71.47,266.49 71.48,266.17 71.49,265.86C71.51,265.54 71.53,265.22 71.55,264.90C71.58,264.58 71.61,264.25 71.64,263.93C71.68,263.61 71.72,263.28 71.77,262.95C71.82,262.63 71.88,262.30 71.93,261.97C71.99,261.64 72.06,261.32 72.13,260.99C72.20,260.66 72.28,260.33 72.36,260.00C72.44,259.67 72.53,259.34 72.62,259.02C72.72,258.69 72.81,258.36 72.92,258.03C73.02,257.71 73.13,257.38 73.24,257.06C73.36,256.73 73.48,256.41 73.60,256.09C73.72,255.77 73.85,255.45 73.98,255.13C74.12,254.82 74.26,254.50 74.40,254.19C74.54,253.87 74.69,253.56 74.84,253.25C74.99,252.95 75.15,252.64 75.31,252.34C75.47,252.04 75.63,251.74 75.80,251.44C75.96,251.15 76.14,250.85 76.31,250.57C76.49,250.28 76.67,249.99 76.85,249.71C77.03,249.43 77.22,249.16 77.41,248.88C77.60,248.61 77.79,248.34 77.99,248.08C78.18,247.82 78.38,247.56 78.58,247.30C78.79,247.05 78.99,246.80 79.20,246.56C79.40,246.31 79.61,246.07 79.83,245.84C80.04,245.61 80.25,245.38 80.47,245.16C80.69,244.94 80.90,244.72 81.12,244.51C81.34,244.30 81.57,244.09 81.79,243.90C82.01,243.70 82.24,243.50 82.46,243.32C82.69,243.13 82.92,242.95 83.15,242.78C83.37,242.61 83.60,242.44 83.83,242.28C84.06,242.12 84.30,241.96 84.53,241.82C84.76,241.67 84.99,241.53 85.22,241.40C85.45,241.26 85.69,241.14 85.92,241.02C86.15,240.90 86.38,240.79 86.61,240.68C86.84,240.58 87.08,240.48 87.31,240.39C87.54,240.30 87.77,240.21 88.00,240.14C88.23,240.06 88.45,239.99 88.68,239.93C88.91,239.87 89.13,239.82 89.36,239.77C89.58,239.72 89.81,239.68 90.03,239.65C90.25,239.62 90.47,239.59 90.69,239.58C90.90,239.56 91.12,239.55 91.33,239.55C91.55,239.54 91.76,239.55 91.97,239.56C92.18,239.57 92.39,239.59 92.59,239.62C92.80,239.64 93.00,239.68 93.20,239.72C93.40,239.76 93.59,239.81 93.78,239.86C93.98,239.92 94.17,239.98 94.36,240.05C94.54,240.12 94.73,240.19 94.91,240.28C95.09,240.36 95.35,240.50 95.44,240.55" stroke="#8ccc8c" stroke-width="0.72" stroke-dasharray="4 0.6 0.3 0.6"/>
<path d="M21.17,274.56C24.14,274.01 33.47,273.03 38.99,271.24C44.51,269.45 49.94,266.90 54.29,263.80C58.63,260.70 61.49,256.16 65.06,252.63C68.63,249.11 72.26,245.10 75.70,242.67C79.14,240.23 82.35,238.96 85.67,238.01C89.00,237.07 92.31,237.17 95.65,237.02C98.99,236.86 103.22,236.42 105.69,237.08C108.16,237.75 109.94,238.86 110.48,241.01C111.02,243.15 109.76,247.37 108.95,249.98C108.14,252.58 106.95,254.63 105.62,256.62C104.30,258.61 101.75,261.05 100.97,261.94" stroke="#ffbb66" stroke-width="0.82" stroke-dasharray="3.1 0.85 0.35 0.85"/>
<path d="M21.17,275.89C24.14,275.45 33.47,274.78 38.99,273.23C44.51,271.68 49.65,269.19 54.29,266.59C58.92,263.99 63.22,260.61 66.79,257.62C70.36,254.63 73.06,251.15 75.70,248.65C78.34,246.14 79.85,244.37 82.62,242.60C85.39,240.83 89.40,239.04 92.33,238.01C95.25,236.99 98.07,236.42 100.17,236.42C102.28,236.42 104.16,237.75 104.96,238.01" stroke="#a4daf3" stroke-width="0.9" stroke-dasharray="4.9 2.1"/>
</g>
<rect x="22.5" y="191.5" width="133.0" height="132.89999999999998" fill="none" stroke="#a2a2a2" stroke-width="1.0"/>
<path d="M22.50,324.4v1.8M35.80,324.4v1.8M49.10,324.4v1.8M62.40,324.4v1.8M75.70,324.4v1.8M89.00,324.4v1.8M102.30,324.4v1.8M115.60,324.4v1.8M128.90,324.4v1.8M142.20,324.4v1.8M155.50,324.4v1.8M22.5,191.50h-1.8M22.5,204.79h-1.8M22.5,218.08h-1.8M22.5,231.37h-1.8M22.5,244.66h-1.8M22.5,257.95h-1.8M22.5,271.24h-1.8M22.5,284.53h-1.8M22.5,297.82h-1.8M22.5,311.11h-1.8M22.5,324.40h-1.8" stroke="#a2a2a2" stroke-width="0.8"/>
<rect x="103.5" y="273.5" width="48.7" height="47.5" rx="1.3" fill="#fff" fill-opacity="0.85" stroke="#d6d6d6" stroke-width="0.6"/>
<path d="M105.00,277.50h11.3" stroke="#cfcfcf" stroke-width="1.6"/>
<path d="M105.00,285.50h11.3" stroke="#ff5a5a" stroke-width="0.95"/>
<path d="M105.00,293.50h11.3" stroke="#5050ff" stroke-width="0.85" stroke-dasharray="1.5 0.7"/>
<path d="M105.00,300.50h11.3" stroke="#c6e6c6" stroke-width="1.5" stroke-dasharray="4 0.6 0.3 0.6"/>
<path d="M105.00,308.50h11.3" stroke="#ffbb66" stroke-width="0.82" stroke-dasharray="3.1 0.85 0.35 0.85"/>
<path d="M105.00,316.50h11.3" stroke="#b4def2" stroke-width="1.2" stroke-dasharray="4.9 2.1"/>
<clipPath id="c5"><rect x="198.5" y="191.5" width="133.0" height="132.89999999999998"/></clipPath>
<g clip-path="url(#c5)" fill="none" stroke-linejoin="round">
<path d="M197.17,231.37C200.26,230.30 209.24,227.37 215.72,224.92C222.21,222.48 229.94,218.80 236.07,216.68C242.20,214.57 247.71,213.20 252.50,212.23C257.29,211.27 260.01,210.50 264.80,210.90C269.59,211.30 277.20,213.26 281.23,214.62C285.25,215.99 287.06,218.11 288.94,219.08C290.82,220.04 291.42,220.35 292.53,220.41C293.64,220.46 294.75,220.13 295.59,219.41C296.43,218.69 296.92,217.64 297.58,216.09C298.25,214.54 298.88,212.06 299.58,210.11C300.28,208.16 300.89,206.27 301.77,204.39C302.66,202.51 303.88,200.17 304.90,198.81C305.92,197.45 306.78,196.88 307.89,196.22C309.00,195.55 309.83,195.12 311.55,194.82C313.27,194.52 316.20,194.51 318.20,194.42C320.19,194.34 322.16,194.28 323.52,194.29C324.88,194.30 326.07,194.26 326.38,194.49C326.69,194.72 325.55,195.49 325.38,195.69" stroke="#606060" stroke-width="0.75"/>
<path d="M197.17,231.04C200.26,229.85 209.24,226.15 215.72,223.93C222.21,221.70 230.63,218.95 236.07,217.68C241.51,216.41 243.23,216.39 248.38,216.29C253.52,216.19 261.45,216.16 266.93,217.08C272.40,218.00 277.81,220.08 281.23,221.80C284.64,223.52 286.12,225.23 287.41,227.38C288.70,229.53 288.91,231.81 288.94,234.69C288.97,237.57 288.30,241.88 287.61,244.66C286.92,247.44 286.47,247.92 284.82,251.37C283.17,254.83 280.64,261.28 277.70,265.39C274.76,269.50 270.71,273.98 267.19,276.02C263.68,278.07 259.56,278.57 256.62,277.69C253.68,276.80 251.02,273.62 249.57,270.71C248.12,267.80 247.31,264.01 247.91,260.21C248.51,256.41 250.84,251.01 253.16,247.92C255.49,244.83 258.95,242.85 261.87,241.67C264.80,240.48 268.21,239.76 270.72,240.81C273.22,241.85 275.87,245.28 276.90,247.92C277.93,250.55 277.93,253.71 276.90,256.62C275.87,259.53 272.92,263.33 270.72,265.39C268.51,267.45 265.88,268.68 263.67,268.98C261.46,269.28 258.72,267.92 257.49,267.19C256.26,266.46 256.49,265.03 256.29,264.59" stroke="#ff5a5a" stroke-width="0.95"/>
<path d="M197.17,231.37C200.26,230.26 209.24,226.77 215.72,224.72C222.21,222.68 230.63,219.96 236.07,219.08C241.51,218.19 243.23,219.19 248.38,219.41C253.52,219.63 261.45,219.52 266.93,220.41C272.40,221.29 277.78,223.12 281.23,224.72C284.67,226.33 286.25,227.83 287.61,230.04C288.97,232.26 289.29,235.25 289.41,238.01C289.52,240.78 289.04,244.00 288.27,246.65C287.51,249.31 286.58,250.64 284.82,253.96C283.05,257.29 280.64,262.82 277.70,266.59C274.76,270.35 270.71,274.67 267.19,276.56C263.68,278.44 259.65,278.77 256.62,277.88C253.60,277.00 250.53,274.23 249.04,271.24C247.55,268.25 247.05,263.93 247.71,259.94C248.38,255.96 250.67,250.42 253.03,247.32C255.39,244.22 258.93,242.44 261.87,241.34C264.82,240.23 268.20,239.57 270.72,240.67C273.23,241.78 275.87,245.32 276.97,247.98C278.07,250.64 277.97,254.07 277.30,256.62C276.64,259.17 273.70,262.16 272.98,263.27" stroke="#5050ff" stroke-width="0.85" stroke-dasharray="1.5 0.7"/>
<path d="M197.17,230.71C198.50,230.43 202.06,229.49 205.15,229.04C208.24,228.60 210.57,228.21 215.72,228.05C220.88,227.88 227.54,227.99 236.07,228.05C244.61,228.10 260.27,227.70 266.93,228.38C273.59,229.06 273.49,230.28 276.04,232.10C278.59,233.92 280.86,236.72 282.22,239.28C283.59,241.84 284.10,244.89 284.22,247.45C284.34,250.01 283.94,251.77 282.95,254.63C281.97,257.48 280.04,261.62 278.30,264.59C276.56,267.57 275.53,269.43 272.51,272.50C269.50,275.57 264.31,281.25 260.21,283.00C256.11,284.75 250.85,284.75 247.91,283.00C244.97,281.25 242.89,276.60 242.59,272.50C242.29,268.40 244.35,262.81 246.11,258.42C247.88,254.02 250.54,249.49 253.16,246.12C255.79,242.76 260.42,239.53 261.87,238.21" stroke="#8ccc8c" stroke-width="0.72" stroke-dasharray="4 0.6 0.3 0.6"/>
<path d="M197.17,234.09C202.93,234.11 220.12,234.12 231.75,234.16C243.38,234.21 259.55,234.02 266.93,234.36C274.31,234.70 273.49,235.24 276.04,236.22C278.59,237.21 280.74,238.65 282.22,240.27C283.71,241.90 284.37,244.15 284.95,245.99C285.53,247.83 285.90,249.09 285.68,251.30C285.46,253.52 284.35,257.21 283.62,259.28C282.89,261.35 282.51,261.74 281.29,263.73C280.07,265.72 278.07,268.91 276.31,271.24C274.54,273.57 272.82,276.02 270.72,277.69C268.61,279.35 265.72,280.38 263.67,281.21C261.62,282.04 259.75,282.45 258.42,282.67C257.09,282.89 256.14,282.56 255.69,282.54" stroke="#ffbb66" stroke-width="0.82" stroke-dasharray="3.1 0.85 0.35 0.85"/>
<path d="M197.17,237.15C209.77,237.15 259.26,237.10 272.78,237.15C286.30,237.21 276.83,237.23 278.30,237.48C279.77,237.74 281.07,238.48 281.62,238.68" stroke="#a4daf3" stroke-width="0.9" stroke-dasharray="4.9 2.1"/>
</g>
<rect x="198.5" y="191.5" width="133.0" height="132.89999999999998" fill="none" stroke="#a2a2a2" stroke-width="1.0"/>
<path d="M198.50,324.4v1.8M211.80,324.4v1.8M225.10,324.4v1.8M238.40,324.4v1.8M251.70,324.4v1.8M265.00,324.4v1.8M278.30,324.4v1.8M291.60,324.4v1.8M304.90,324.4v1.8M318.20,324.4v1.8M331.50,324.4v1.8M198.5,191.50h-1.8M198.5,204.79h-1.8M198.5,218.08h-1.8M198.5,231.37h-1.8M198.5,244.66h-1.8M198.5,257.95h-1.8M198.5,271.24h-1.8M198.5,284.53h-1.8M198.5,297.82h-1.8M198.5,311.11h-1.8M198.5,324.40h-1.8" stroke="#a2a2a2" stroke-width="0.8"/>
<rect x="279.5" y="273.5" width="49.0" height="47.5" rx="1.3" fill="#fff" fill-opacity="0.85" stroke="#d6d6d6" stroke-width="0.6"/>
<path d="M281.00,277.50h11.3" stroke="#cfcfcf" stroke-width="1.6"/>
<path d="M281.00,285.50h11.3" stroke="#ff5a5a" stroke-width="0.95"/>
<path d="M281.00,293.50h11.3" stroke="#5050ff" stroke-width="0.85" stroke-dasharray="1.5 0.7"/>
<path d="M281.00,300.50h11.3" stroke="#c6e6c6" stroke-width="1.5" stroke-dasharray="4 0.6 0.3 0.6"/>
<path d="M281.00,308.50h11.3" stroke="#ffbb66" stroke-width="0.82" stroke-dasharray="3.1 0.85 0.35 0.85"/>
<path d="M281.00,316.50h11.3" stroke="#b4def2" stroke-width="1.2" stroke-dasharray="4.9 2.1"/>
<clipPath id="c6"><rect x="372.5" y="191.5" width="133.0" height="132.89999999999998"/></clipPath>
<g clip-path="url(#c6)" fill="none" stroke-linejoin="round">
<path d="M371.17,272.44C373.91,271.72 382.51,269.86 387.60,268.12C392.68,266.38 397.57,264.79 401.69,262.00C405.82,259.21 409.29,254.68 412.33,251.37C415.38,248.06 417.13,245.05 419.98,242.13C422.83,239.22 426.29,235.62 429.42,233.90C432.56,232.17 435.69,231.87 438.80,231.77C441.91,231.67 445.37,231.98 448.11,233.30C450.85,234.61 453.66,237.04 455.23,239.68C456.79,242.31 457.31,245.98 457.49,249.11C457.66,252.25 457.07,255.55 456.29,258.48C455.51,261.42 454.30,264.09 452.83,266.72C451.37,269.36 449.58,272.60 447.51,274.30C445.44,275.99 442.40,276.46 440.40,276.89C438.39,277.32 436.30,276.89 435.48,276.89" stroke="#606060" stroke-width="0.75"/>
<path d="M371.17,274.89C373.91,274.26 382.51,272.67 387.60,271.11C392.68,269.55 397.34,268.50 401.69,265.53C406.05,262.55 409.62,257.05 413.73,253.23C417.84,249.41 421.80,245.24 426.37,242.60C430.93,239.96 437.33,237.85 441.13,237.42C444.93,236.99 447.02,238.85 449.17,240.01C451.32,241.17 452.74,242.50 454.03,244.39C455.31,246.29 456.41,249.42 456.89,251.37C457.37,253.32 456.89,255.30 456.89,256.09" stroke="#ff5a5a" stroke-width="0.95"/>
<path d="M371.17,274.56C373.91,273.92 382.51,272.30 387.60,270.71C392.68,269.11 397.34,267.98 401.69,264.99C406.05,262.00 409.62,256.54 413.73,252.77C417.84,248.99 421.92,244.85 426.37,242.33C430.81,239.82 436.59,237.98 440.40,237.68C444.20,237.38 446.86,239.38 449.17,240.54C451.49,241.70 453.21,243.43 454.30,244.66C455.38,245.89 455.46,247.37 455.69,247.92" stroke="#5050ff" stroke-width="0.85" stroke-dasharray="1.5 0.7"/>
<path d="M371.17,275.09C373.91,274.51 382.51,273.05 387.60,271.57C392.68,270.10 397.34,269.14 401.69,266.26C406.05,263.38 409.73,257.95 413.73,254.30C417.73,250.64 422.04,246.85 425.70,244.33C429.36,241.80 432.90,240.20 435.68,239.14C438.45,238.09 440.08,238.13 442.32,238.01C444.57,237.90 448.03,238.40 449.17,238.48" stroke="#8ccc8c" stroke-width="0.72" stroke-dasharray="4 0.6 0.3 0.6"/>
<path d="M371.17,275.23C373.91,274.65 382.51,273.21 387.60,271.77C392.68,270.33 397.34,269.39 401.69,266.59C406.05,263.79 409.73,258.61 413.73,254.96C417.73,251.30 422.38,247.15 425.70,244.66C429.02,242.17 431.13,241.12 433.68,240.01C436.23,238.90 439.78,238.35 441.00,238.01" stroke="#ffbb66" stroke-width="0.82" stroke-dasharray="3.1 0.85 0.35 0.85"/>
<path d="M371.17,277.22C373.91,276.72 382.51,275.61 387.60,274.23C392.68,272.85 397.89,271.13 401.69,268.91C405.50,266.70 407.51,263.65 410.40,260.94C413.30,258.23 416.50,254.90 419.05,252.63C421.60,250.36 423.59,248.69 425.70,247.32C427.81,245.94 430.69,244.88 431.69,244.39" stroke="#a4daf3" stroke-width="0.9" stroke-dasharray="4.9 2.1"/>
</g>
<rect x="372.5" y="191.5" width="133.0" height="132.89999999999998" fill="none" stroke="#a2a2a2" stroke-width="1.0"/>
<path d="M372.50,324.4v1.8M385.80,324.4v1.8M399.10,324.4v1.8M412.40,324.4v1.8M425.70,324.4v1.8M439.00,324.4v1.8M452.30,324.4v1.8M465.60,324.4v1.8M478.90,324.4v1.8M492.20,324.4v1.8M505.50,324.4v1.8M372.5,191.50h-1.8M372.5,204.79h-1.8M372.5,218.08h-1.8M372.5,231.37h-1.8M372.5,244.66h-1.8M372.5,257.95h-1.8M372.5,271.24h-1.8M372.5,284.53h-1.8M372.5,297.82h-1.8M372.5,311.11h-1.8M372.5,324.40h-1.8" stroke="#a2a2a2" stroke-width="0.8"/>
<rect x="453.6" y="273.5" width="48.3" height="47.5" rx="1.3" fill="#fff" fill-opacity="0.85" stroke="#d6d6d6" stroke-width="0.6"/>
<path d="M455.10,277.50h11.3" stroke="#cfcfcf" stroke-width="1.6"/>
<path d="M455.10,285.50h11.3" stroke="#ff5a5a" stroke-width="0.95"/>
<path d="M455.10,293.50h11.3" stroke="#5050ff" stroke-width="0.85" stroke-dasharray="1.5 0.7"/>
<path d="M455.10,300.50h11.3" stroke="#c6e6c6" stroke-width="1.5" stroke-dasharray="4 0.6 0.3 0.6"/>
<path d="M455.10,308.50h11.3" stroke="#ffbb66" stroke-width="0.82" stroke-dasharray="3.1 0.85 0.35 0.85"/>
<path d="M455.10,316.50h11.3" stroke="#b4def2" stroke-width="1.2" stroke-dasharray="4.9 2.1"/>
<clipPath id="c7"><rect x="548.5" y="191.5" width="133.0" height="132.89999999999998"/></clipPath>
<g clip-path="url(#c7)" fill="none" stroke-linejoin="round">
<path d="M547.17,231.57C549.74,231.00 557.09,229.78 562.60,228.18C568.11,226.59 574.93,224.06 580.22,222.00C585.51,219.94 590.22,217.37 594.32,215.82C598.42,214.27 601.31,213.41 604.83,212.70C608.34,211.99 611.89,211.34 615.40,211.57C618.91,211.80 622.69,212.94 625.91,214.09C629.12,215.24 632.04,217.25 634.68,218.48C637.33,219.71 639.73,221.08 641.80,221.47C643.87,221.86 645.66,221.30 647.12,220.80C648.58,220.31 650.00,218.87 650.58,218.48" stroke="#606060" stroke-width="0.75"/>
<path d="M547.17,230.57C549.74,229.87 557.09,228.11 562.60,226.39C568.11,224.66 575.52,221.73 580.22,220.21C584.92,218.68 586.98,217.80 590.79,217.22C594.61,216.63 599.00,216.62 603.10,216.68C607.20,216.75 611.30,216.82 615.40,217.61C619.50,218.41 624.19,219.71 627.70,221.47C631.21,223.23 634.29,225.74 636.48,228.18C638.67,230.62 640.14,234.77 640.87,236.09" stroke="#ff5a5a" stroke-width="0.95"/>
<path d="M547.17,230.57C549.74,229.93 557.94,228.14 562.60,226.72C567.25,225.30 571.00,223.24 575.10,222.07C579.20,220.89 582.54,220.15 587.20,219.67C591.87,219.20 597.51,219.02 603.10,219.21C608.68,219.40 615.73,219.75 620.72,220.80C625.71,221.86 629.96,223.42 633.02,225.52C636.08,227.63 638.06,232.11 639.07,233.43" stroke="#5050ff" stroke-width="0.85" stroke-dasharray="1.5 0.7"/>
<path d="M547.17,231.37C549.74,230.97 558.56,229.51 562.60,228.98C566.63,228.45 563.46,228.31 571.38,228.18C579.29,228.05 601.58,227.75 610.08,228.18C618.58,228.61 618.86,229.30 622.38,230.77C625.91,232.24 629.02,234.81 631.23,237.02C633.43,239.22 634.74,241.81 635.62,244.00C636.49,246.18 636.34,249.09 636.48,250.11" stroke="#8ccc8c" stroke-width="0.72" stroke-dasharray="4 0.6 0.3 0.6"/>
<path d="M547.17,234.69C559.13,234.77 605.50,234.64 618.92,235.16C632.35,235.68 625.51,236.87 627.70,237.82C629.90,238.76 631.36,240.31 632.09,240.81" stroke="#ffbb66" stroke-width="0.82" stroke-dasharray="3.1 0.85 0.35 0.85"/>
<path d="M547.17,237.28C559.71,237.28 609.41,237.22 622.38,237.28C635.35,237.35 624.54,237.62 624.98,237.68" stroke="#a4daf3" stroke-width="0.9" stroke-dasharray="4.9 2.1"/>
</g>
<rect x="548.5" y="191.5" width="133.0" height="132.89999999999998" fill="none" stroke="#a2a2a2" stroke-width="1.0"/>
<path d="M548.50,324.4v1.8M561.80,324.4v1.8M575.10,324.4v1.8M588.40,324.4v1.8M601.70,324.4v1.8M615.00,324.4v1.8M628.30,324.4v1.8M641.60,324.4v1.8M654.90,324.4v1.8M668.20,324.4v1.8M681.50,324.4v1.8M548.5,191.50h-1.8M548.5,204.79h-1.8M548.5,218.08h-1.8M548.5,231.37h-1.8M548.5,244.66h-1.8M548.5,257.95h-1.8M548.5,271.24h-1.8M548.5,284.53h-1.8M548.5,297.82h-1.8M548.5,311.11h-1.8M548.5,324.40h-1.8" stroke="#a2a2a2" stroke-width="0.8"/>
<rect x="550.7" y="273.8" width="49.6" height="47.4" rx="1.3" fill="#fff" fill-opacity="0.85" stroke="#d6d6d6" stroke-width="0.6"/>
<path d="M552.20,278.50h11.3" stroke="#cfcfcf" stroke-width="1.6"/>
<path d="M552.20,285.50h11.3" stroke="#ff5a5a" stroke-width="0.95"/>
<path d="M552.20,293.50h11.3" stroke="#5050ff" stroke-width="0.85" stroke-dasharray="1.5 0.7"/>
<path d="M552.20,301.50h11.3" stroke="#c6e6c6" stroke-width="1.5" stroke-dasharray="4 0.6 0.3 0.6"/>
<path d="M552.20,308.50h11.3" stroke="#ffbb66" stroke-width="0.82" stroke-dasharray="3.1 0.85 0.35 0.85"/>
<path d="M552.20,316.50h11.3" stroke="#b4def2" stroke-width="1.2" stroke-dasharray="4.9 2.1"/>
<g opacity="0.99" style="will-change:transform" stroke="#000" stroke-width="0.14" stroke-opacity="0.6">
<text x="88.50" y="11.60" font-size="5.4" text-anchor="middle" fill="#111">(<tspan font-style="italic">x̂</tspan><tspan font-size="4" dy="1.2">0</tspan><tspan dy="-1.2">, </tspan><tspan font-style="italic">ẑ</tspan><tspan font-size="4" dy="1.2">0</tspan><tspan dy="-1.2">) = (0.0033, −0.31)</tspan></text>
<text x="22.90" y="156.20" font-size="5.6" stroke-width="0.06" text-anchor="middle" fill="#111">0.0</text>
<text x="36.20" y="156.20" font-size="5.6" stroke-width="0.06" text-anchor="middle" fill="#111">0.1</text>
<text x="49.50" y="156.20" font-size="5.6" stroke-width="0.06" text-anchor="middle" fill="#111">0.2</text>
<text x="62.80" y="156.20" font-size="5.6" stroke-width="0.06" text-anchor="middle" fill="#111">0.3</text>
<text x="76.10" y="156.20" font-size="5.6" stroke-width="0.06" text-anchor="middle" fill="#111">0.4</text>
<text x="89.40" y="156.20" font-size="5.6" stroke-width="0.06" text-anchor="middle" fill="#111">0.5</text>
<text x="102.70" y="156.20" font-size="5.6" stroke-width="0.06" text-anchor="middle" fill="#111">0.6</text>
<text x="116.00" y="156.20" font-size="5.6" stroke-width="0.06" text-anchor="middle" fill="#111">0.7</text>
<text x="129.30" y="156.20" font-size="5.6" stroke-width="0.06" text-anchor="middle" fill="#111">0.8</text>
<text x="142.60" y="156.20" font-size="5.6" stroke-width="0.06" text-anchor="middle" fill="#111">0.9</text>
<text x="155.90" y="156.20" font-size="5.6" stroke-width="0.06" text-anchor="middle" fill="#111">1.0</text>
<text x="19.10" y="17.55" font-size="5.6" stroke-width="0.06" text-anchor="end" fill="#111">1.0</text>
<text x="19.10" y="30.84" font-size="5.6" stroke-width="0.06" text-anchor="end" fill="#111">0.8</text>
<text x="19.10" y="44.13" font-size="5.6" stroke-width="0.06" text-anchor="end" fill="#111">0.6</text>
<text x="19.10" y="57.42" font-size="5.6" stroke-width="0.06" text-anchor="end" fill="#111">0.4</text>
<text x="19.10" y="70.71" font-size="5.6" stroke-width="0.06" text-anchor="end" fill="#111">0.2</text>
<text x="19.10" y="84.00" font-size="5.6" stroke-width="0.06" text-anchor="end" fill="#111">0.0</text>
<text x="19.10" y="97.29" font-size="5.6" stroke-width="0.06" text-anchor="end" fill="#111">−0.2</text>
<text x="19.10" y="110.58" font-size="5.6" stroke-width="0.06" text-anchor="end" fill="#111">−0.4</text>
<text x="19.10" y="123.87" font-size="5.6" stroke-width="0.06" text-anchor="end" fill="#111">−0.6</text>
<text x="19.10" y="137.16" font-size="5.6" stroke-width="0.06" text-anchor="end" fill="#111">−0.8</text>
<text x="19.10" y="150.45" font-size="5.6" stroke-width="0.06" text-anchor="end" fill="#111">−1.0</text>
<text x="89.50" y="163.80" font-size="6.0" font-style="italic" text-anchor="middle" fill="#111" stroke-width="0">x</text><circle cx="90.47" cy="159.67" r="0.42" fill="#333"/>
<text x="3.90" y="83.95" font-size="6.0" font-style="italic" text-anchor="middle" fill="#111" stroke-width="0">y</text><circle cx="4.87" cy="79.82" r="0.42" fill="#333"/>
<text x="121.20" y="105.10" font-size="5.3" fill="#111">Point particle</text>
<text x="121.20" y="113.10" font-size="5.3" fill="#111">χ = 0.35</text>
<text x="121.20" y="120.10" font-size="5.3" fill="#111">χ = 0.40</text>
<text x="121.20" y="128.10" font-size="5.3" fill="#111">χ = 0.50</text>
<text x="121.20" y="135.10" font-size="5.3" fill="#111">χ = 0.60</text>
<text x="121.20" y="143.10" font-size="5.3" fill="#111">χ = 0.65</text>
<text x="264.00" y="11.10" font-size="5.4" text-anchor="middle" fill="#111">(<tspan font-style="italic">x̂</tspan><tspan font-size="4" dy="1.2">0</tspan><tspan dy="-1.2">, </tspan><tspan font-style="italic">ẑ</tspan><tspan font-size="4" dy="1.2">0</tspan><tspan dy="-1.2">) = (0.0033, 0.31)</tspan></text>
<text x="198.90" y="156.20" font-size="5.6" stroke-width="0.06" text-anchor="middle" fill="#111">0.0</text>
<text x="212.20" y="156.20" font-size="5.6" stroke-width="0.06" text-anchor="middle" fill="#111">0.1</text>
<text x="225.50" y="156.20" font-size="5.6" stroke-width="0.06" text-anchor="middle" fill="#111">0.2</text>
<text x="238.80" y="156.20" font-size="5.6" stroke-width="0.06" text-anchor="middle" fill="#111">0.3</text>
<text x="252.10" y="156.20" font-size="5.6" stroke-width="0.06" text-anchor="middle" fill="#111">0.4</text>
<text x="265.40" y="156.20" font-size="5.6" stroke-width="0.06" text-anchor="middle" fill="#111">0.5</text>
<text x="278.70" y="156.20" font-size="5.6" stroke-width="0.06" text-anchor="middle" fill="#111">0.6</text>
<text x="292.00" y="156.20" font-size="5.6" stroke-width="0.06" text-anchor="middle" fill="#111">0.7</text>
<text x="305.30" y="156.20" font-size="5.6" stroke-width="0.06" text-anchor="middle" fill="#111">0.8</text>
<text x="318.60" y="156.20" font-size="5.6" stroke-width="0.06" text-anchor="middle" fill="#111">0.9</text>
<text x="331.90" y="156.20" font-size="5.6" stroke-width="0.06" text-anchor="middle" fill="#111">1.0</text>
<text x="195.10" y="17.55" font-size="5.6" stroke-width="0.06" text-anchor="end" fill="#111">1.0</text>
<text x="195.10" y="30.84" font-size="5.6" stroke-width="0.06" text-anchor="end" fill="#111">0.8</text>
<text x="195.10" y="44.13" font-size="5.6" stroke-width="0.06" text-anchor="end" fill="#111">0.6</text>
<text x="195.10" y="57.42" font-size="5.6" stroke-width="0.06" text-anchor="end" fill="#111">0.4</text>
<text x="195.10" y="70.71" font-size="5.6" stroke-width="0.06" text-anchor="end" fill="#111">0.2</text>
<text x="195.10" y="84.00" font-size="5.6" stroke-width="0.06" text-anchor="end" fill="#111">0.0</text>
<text x="195.10" y="97.29" font-size="5.6" stroke-width="0.06" text-anchor="end" fill="#111">−0.2</text>
<text x="195.10" y="110.58" font-size="5.6" stroke-width="0.06" text-anchor="end" fill="#111">−0.4</text>
<text x="195.10" y="123.87" font-size="5.6" stroke-width="0.06" text-anchor="end" fill="#111">−0.6</text>
<text x="195.10" y="137.16" font-size="5.6" stroke-width="0.06" text-anchor="end" fill="#111">−0.8</text>
<text x="195.10" y="150.45" font-size="5.6" stroke-width="0.06" text-anchor="end" fill="#111">−1.0</text>
<text x="265.50" y="163.80" font-size="6.0" font-style="italic" text-anchor="middle" fill="#111" stroke-width="0">x</text><circle cx="266.47" cy="159.67" r="0.42" fill="#333"/>
<text x="179.90" y="83.95" font-size="6.0" font-style="italic" text-anchor="middle" fill="#111" stroke-width="0">y</text><circle cx="180.87" cy="79.82" r="0.42" fill="#333"/>
<text x="297.20" y="105.10" font-size="5.3" fill="#111">point particle</text>
<text x="297.20" y="113.10" font-size="5.3" fill="#111">χ = 0.35</text>
<text x="297.20" y="120.10" font-size="5.3" fill="#111">χ = 0.40</text>
<text x="297.20" y="128.10" font-size="5.3" fill="#111">χ = 0.50</text>
<text x="297.20" y="135.10" font-size="5.3" fill="#111">χ = 0.60</text>
<text x="297.20" y="143.10" font-size="5.3" fill="#111">χ = 0.65</text>
<text x="435.00" y="10.70" font-size="5.4" text-anchor="middle" fill="#111">(<tspan font-style="italic">x̂</tspan><tspan font-size="4" dy="1.2">0</tspan><tspan dy="-1.2">, </tspan><tspan font-style="italic">ẑ</tspan><tspan font-size="4" dy="1.2">0</tspan><tspan dy="-1.2">) = (0.15, −0.31)</tspan></text>
<text x="372.90" y="156.20" font-size="5.6" stroke-width="0.06" text-anchor="middle" fill="#111">0.0</text>
<text x="386.20" y="156.20" font-size="5.6" stroke-width="0.06" text-anchor="middle" fill="#111">0.1</text>
<text x="399.50" y="156.20" font-size="5.6" stroke-width="0.06" text-anchor="middle" fill="#111">0.2</text>
<text x="412.80" y="156.20" font-size="5.6" stroke-width="0.06" text-anchor="middle" fill="#111">0.3</text>
<text x="426.10" y="156.20" font-size="5.6" stroke-width="0.06" text-anchor="middle" fill="#111">0.4</text>
<text x="439.40" y="156.20" font-size="5.6" stroke-width="0.06" text-anchor="middle" fill="#111">0.5</text>
<text x="452.70" y="156.20" font-size="5.6" stroke-width="0.06" text-anchor="middle" fill="#111">0.6</text>
<text x="466.00" y="156.20" font-size="5.6" stroke-width="0.06" text-anchor="middle" fill="#111">0.7</text>
<text x="479.30" y="156.20" font-size="5.6" stroke-width="0.06" text-anchor="middle" fill="#111">0.8</text>
<text x="492.60" y="156.20" font-size="5.6" stroke-width="0.06" text-anchor="middle" fill="#111">0.9</text>
<text x="505.90" y="156.20" font-size="5.6" stroke-width="0.06" text-anchor="middle" fill="#111">1.0</text>
<text x="369.10" y="17.55" font-size="5.6" stroke-width="0.06" text-anchor="end" fill="#111">1.0</text>
<text x="369.10" y="30.84" font-size="5.6" stroke-width="0.06" text-anchor="end" fill="#111">0.8</text>
<text x="369.10" y="44.13" font-size="5.6" stroke-width="0.06" text-anchor="end" fill="#111">0.6</text>
<text x="369.10" y="57.42" font-size="5.6" stroke-width="0.06" text-anchor="end" fill="#111">0.4</text>
<text x="369.10" y="70.71" font-size="5.6" stroke-width="0.06" text-anchor="end" fill="#111">0.2</text>
<text x="369.10" y="84.00" font-size="5.6" stroke-width="0.06" text-anchor="end" fill="#111">0.0</text>
<text x="369.10" y="97.29" font-size="5.6" stroke-width="0.06" text-anchor="end" fill="#111">−0.2</text>
<text x="369.10" y="110.58" font-size="5.6" stroke-width="0.06" text-anchor="end" fill="#111">−0.4</text>
<text x="369.10" y="123.87" font-size="5.6" stroke-width="0.06" text-anchor="end" fill="#111">−0.6</text>
<text x="369.10" y="137.16" font-size="5.6" stroke-width="0.06" text-anchor="end" fill="#111">−0.8</text>
<text x="369.10" y="150.45" font-size="5.6" stroke-width="0.06" text-anchor="end" fill="#111">−1.0</text>
<text x="439.50" y="163.80" font-size="6.0" font-style="italic" text-anchor="middle" fill="#111" stroke-width="0">x</text><circle cx="440.47" cy="159.67" r="0.42" fill="#333"/>
<text x="353.90" y="83.95" font-size="6.0" font-style="italic" text-anchor="middle" fill="#111" stroke-width="0">y</text><circle cx="354.87" cy="79.82" r="0.42" fill="#333"/>
<text x="390.70" y="23.10" font-size="5.3" fill="#111">point particle</text>
<text x="390.70" y="31.10" font-size="5.3" fill="#111">χ = 0.35</text>
<text x="390.70" y="38.10" font-size="5.3" fill="#111">χ = 0.40</text>
<text x="390.70" y="46.10" font-size="5.3" fill="#111">χ = 0.50</text>
<text x="390.70" y="53.10" font-size="5.3" fill="#111">χ = 0.60</text>
<text x="390.70" y="61.10" font-size="5.3" fill="#111">χ = 0.65</text>
<text x="613.60" y="10.70" font-size="5.4" text-anchor="middle" fill="#111">(<tspan font-style="italic">x̂</tspan><tspan font-size="4" dy="1.2">0</tspan><tspan dy="-1.2">, </tspan><tspan font-style="italic">ẑ</tspan><tspan font-size="4" dy="1.2">0</tspan><tspan dy="-1.2">) = (0.15, 0.31)</tspan></text>
<text x="548.90" y="156.20" font-size="5.6" stroke-width="0.06" text-anchor="middle" fill="#111">0.0</text>
<text x="562.20" y="156.20" font-size="5.6" stroke-width="0.06" text-anchor="middle" fill="#111">0.1</text>
<text x="575.50" y="156.20" font-size="5.6" stroke-width="0.06" text-anchor="middle" fill="#111">0.2</text>
<text x="588.80" y="156.20" font-size="5.6" stroke-width="0.06" text-anchor="middle" fill="#111">0.3</text>
<text x="602.10" y="156.20" font-size="5.6" stroke-width="0.06" text-anchor="middle" fill="#111">0.4</text>
<text x="615.40" y="156.20" font-size="5.6" stroke-width="0.06" text-anchor="middle" fill="#111">0.5</text>
<text x="628.70" y="156.20" font-size="5.6" stroke-width="0.06" text-anchor="middle" fill="#111">0.6</text>
<text x="642.00" y="156.20" font-size="5.6" stroke-width="0.06" text-anchor="middle" fill="#111">0.7</text>
<text x="655.30" y="156.20" font-size="5.6" stroke-width="0.06" text-anchor="middle" fill="#111">0.8</text>
<text x="668.60" y="156.20" font-size="5.6" stroke-width="0.06" text-anchor="middle" fill="#111">0.9</text>
<text x="681.90" y="156.20" font-size="5.6" stroke-width="0.06" text-anchor="middle" fill="#111">1.0</text>
<text x="545.10" y="17.55" font-size="5.6" stroke-width="0.06" text-anchor="end" fill="#111">1.0</text>
<text x="545.10" y="30.84" font-size="5.6" stroke-width="0.06" text-anchor="end" fill="#111">0.8</text>
<text x="545.10" y="44.13" font-size="5.6" stroke-width="0.06" text-anchor="end" fill="#111">0.6</text>
<text x="545.10" y="57.42" font-size="5.6" stroke-width="0.06" text-anchor="end" fill="#111">0.4</text>
<text x="545.10" y="70.71" font-size="5.6" stroke-width="0.06" text-anchor="end" fill="#111">0.2</text>
<text x="545.10" y="84.00" font-size="5.6" stroke-width="0.06" text-anchor="end" fill="#111">0.0</text>
<text x="545.10" y="97.29" font-size="5.6" stroke-width="0.06" text-anchor="end" fill="#111">−0.2</text>
<text x="545.10" y="110.58" font-size="5.6" stroke-width="0.06" text-anchor="end" fill="#111">−0.4</text>
<text x="545.10" y="123.87" font-size="5.6" stroke-width="0.06" text-anchor="end" fill="#111">−0.6</text>
<text x="545.10" y="137.16" font-size="5.6" stroke-width="0.06" text-anchor="end" fill="#111">−0.8</text>
<text x="545.10" y="150.45" font-size="5.6" stroke-width="0.06" text-anchor="end" fill="#111">−1.0</text>
<text x="615.50" y="163.80" font-size="6.0" font-style="italic" text-anchor="middle" fill="#111" stroke-width="0">x</text><circle cx="616.47" cy="159.67" r="0.42" fill="#333"/>
<text x="529.90" y="83.95" font-size="6.0" font-style="italic" text-anchor="middle" fill="#111" stroke-width="0">y</text><circle cx="530.87" cy="79.82" r="0.42" fill="#333"/>
<text x="566.60" y="23.10" font-size="5.3" fill="#111">point particle</text>
<text x="566.60" y="31.10" font-size="5.3" fill="#111">χ = 0.35</text>
<text x="566.60" y="38.10" font-size="5.3" fill="#111">χ = 0.40</text>
<text x="566.60" y="46.10" font-size="5.3" fill="#111">χ = 0.50</text>
<text x="566.60" y="53.10" font-size="5.3" fill="#111">χ = 0.60</text>
<text x="566.60" y="61.10" font-size="5.3" fill="#111">χ = 0.65</text>
<text x="85.00" y="186.60" font-size="5.4" text-anchor="middle" fill="#111">(<tspan font-style="italic">x̂</tspan><tspan font-size="4" dy="1.2">0</tspan><tspan dy="-1.2">, </tspan><tspan font-style="italic">ẑ</tspan><tspan font-size="4" dy="1.2">0</tspan><tspan dy="-1.2">) = (0.0033, −0.31)</tspan></text>
<text x="22.90" y="332.20" font-size="5.6" stroke-width="0.06" text-anchor="middle" fill="#111">−1.0</text>
<text x="36.20" y="332.20" font-size="5.6" stroke-width="0.06" text-anchor="middle" fill="#111">−0.8</text>
<text x="49.50" y="332.20" font-size="5.6" stroke-width="0.06" text-anchor="middle" fill="#111">−0.6</text>
<text x="62.80" y="332.20" font-size="5.6" stroke-width="0.06" text-anchor="middle" fill="#111">−0.4</text>
<text x="76.10" y="332.20" font-size="5.6" stroke-width="0.06" text-anchor="middle" fill="#111">−0.2</text>
<text x="89.40" y="332.20" font-size="5.6" stroke-width="0.06" text-anchor="middle" fill="#111">0.0</text>
<text x="102.70" y="332.20" font-size="5.6" stroke-width="0.06" text-anchor="middle" fill="#111">0.2</text>
<text x="116.00" y="332.20" font-size="5.6" stroke-width="0.06" text-anchor="middle" fill="#111">0.4</text>
<text x="129.30" y="332.20" font-size="5.6" stroke-width="0.06" text-anchor="middle" fill="#111">0.6</text>
<text x="142.60" y="332.20" font-size="5.6" stroke-width="0.06" text-anchor="middle" fill="#111">0.8</text>
<text x="155.90" y="332.20" font-size="5.6" stroke-width="0.06" text-anchor="middle" fill="#111">1.0</text>
<text x="19.10" y="193.55" font-size="5.6" stroke-width="0.06" text-anchor="end" fill="#111">1.0</text>
<text x="19.10" y="206.84" font-size="5.6" stroke-width="0.06" text-anchor="end" fill="#111">0.8</text>
<text x="19.10" y="220.13" font-size="5.6" stroke-width="0.06" text-anchor="end" fill="#111">0.6</text>
<text x="19.10" y="233.42" font-size="5.6" stroke-width="0.06" text-anchor="end" fill="#111">0.4</text>
<text x="19.10" y="246.71" font-size="5.6" stroke-width="0.06" text-anchor="end" fill="#111">0.2</text>
<text x="19.10" y="260.00" font-size="5.6" stroke-width="0.06" text-anchor="end" fill="#111">0.0</text>
<text x="19.10" y="273.29" font-size="5.6" stroke-width="0.06" text-anchor="end" fill="#111">−0.2</text>
<text x="19.10" y="286.58" font-size="5.6" stroke-width="0.06" text-anchor="end" fill="#111">−0.4</text>
<text x="19.10" y="299.87" font-size="5.6" stroke-width="0.06" text-anchor="end" fill="#111">−0.6</text>
<text x="19.10" y="313.16" font-size="5.6" stroke-width="0.06" text-anchor="end" fill="#111">−0.8</text>
<text x="19.10" y="326.45" font-size="5.6" stroke-width="0.06" text-anchor="end" fill="#111">−1.0</text>
<text x="88.40" y="339.80" font-size="6.0" font-style="italic" text-anchor="middle" fill="#111" stroke-width="0">y</text><circle cx="89.37" cy="335.67" r="0.42" fill="#333"/>
<text x="3.90" y="260.85" font-size="6.0" font-style="italic" text-anchor="middle" fill="#111" stroke-width="0">z</text><circle cx="4.87" cy="256.72" r="0.42" fill="#333"/>
<text x="119.10" y="279.10" font-size="5.3" fill="#111">point particle</text>
<text x="119.10" y="287.10" font-size="5.3" fill="#111">χ = 0.35</text>
<text x="119.10" y="295.10" font-size="5.3" fill="#111">χ = 0.40</text>
<text x="119.10" y="302.10" font-size="5.3" fill="#111">χ = 0.50</text>
<text x="119.10" y="310.10" font-size="5.3" fill="#111">χ = 0.60</text>
<text x="119.10" y="318.10" font-size="5.3" fill="#111">χ = 0.65</text>
<text x="261.50" y="186.60" font-size="5.4" text-anchor="middle" fill="#111">(<tspan font-style="italic">x̂</tspan><tspan font-size="4" dy="1.2">0</tspan><tspan dy="-1.2">, </tspan><tspan font-style="italic">ẑ</tspan><tspan font-size="4" dy="1.2">0</tspan><tspan dy="-1.2">) = (0.0033, 0.31)</tspan></text>
<text x="198.90" y="332.20" font-size="5.6" stroke-width="0.06" text-anchor="middle" fill="#111">−1.0</text>
<text x="212.20" y="332.20" font-size="5.6" stroke-width="0.06" text-anchor="middle" fill="#111">−0.8</text>
<text x="225.50" y="332.20" font-size="5.6" stroke-width="0.06" text-anchor="middle" fill="#111">−0.6</text>
<text x="238.80" y="332.20" font-size="5.6" stroke-width="0.06" text-anchor="middle" fill="#111">−0.4</text>
<text x="252.10" y="332.20" font-size="5.6" stroke-width="0.06" text-anchor="middle" fill="#111">−0.2</text>
<text x="265.40" y="332.20" font-size="5.6" stroke-width="0.06" text-anchor="middle" fill="#111">0.0</text>
<text x="278.70" y="332.20" font-size="5.6" stroke-width="0.06" text-anchor="middle" fill="#111">0.2</text>
<text x="292.00" y="332.20" font-size="5.6" stroke-width="0.06" text-anchor="middle" fill="#111">0.4</text>
<text x="305.30" y="332.20" font-size="5.6" stroke-width="0.06" text-anchor="middle" fill="#111">0.6</text>
<text x="318.60" y="332.20" font-size="5.6" stroke-width="0.06" text-anchor="middle" fill="#111">0.8</text>
<text x="331.90" y="332.20" font-size="5.6" stroke-width="0.06" text-anchor="middle" fill="#111">1.0</text>
<text x="195.10" y="193.55" font-size="5.6" stroke-width="0.06" text-anchor="end" fill="#111">1.0</text>
<text x="195.10" y="206.84" font-size="5.6" stroke-width="0.06" text-anchor="end" fill="#111">0.8</text>
<text x="195.10" y="220.13" font-size="5.6" stroke-width="0.06" text-anchor="end" fill="#111">0.6</text>
<text x="195.10" y="233.42" font-size="5.6" stroke-width="0.06" text-anchor="end" fill="#111">0.4</text>
<text x="195.10" y="246.71" font-size="5.6" stroke-width="0.06" text-anchor="end" fill="#111">0.2</text>
<text x="195.10" y="260.00" font-size="5.6" stroke-width="0.06" text-anchor="end" fill="#111">0.0</text>
<text x="195.10" y="273.29" font-size="5.6" stroke-width="0.06" text-anchor="end" fill="#111">−0.2</text>
<text x="195.10" y="286.58" font-size="5.6" stroke-width="0.06" text-anchor="end" fill="#111">−0.4</text>
<text x="195.10" y="299.87" font-size="5.6" stroke-width="0.06" text-anchor="end" fill="#111">−0.6</text>
<text x="195.10" y="313.16" font-size="5.6" stroke-width="0.06" text-anchor="end" fill="#111">−0.8</text>
<text x="195.10" y="326.45" font-size="5.6" stroke-width="0.06" text-anchor="end" fill="#111">−1.0</text>
<text x="264.40" y="339.80" font-size="6.0" font-style="italic" text-anchor="middle" fill="#111" stroke-width="0">y</text><circle cx="265.37" cy="335.67" r="0.42" fill="#333"/>
<text x="179.90" y="260.85" font-size="6.0" font-style="italic" text-anchor="middle" fill="#111" stroke-width="0">z</text><circle cx="180.87" cy="256.72" r="0.42" fill="#333"/>
<text x="295.10" y="279.10" font-size="5.3" fill="#111">point particle</text>
<text x="295.10" y="287.10" font-size="5.3" fill="#111">χ = 0.35</text>
<text x="295.10" y="295.10" font-size="5.3" fill="#111">χ = 0.40</text>
<text x="295.10" y="302.10" font-size="5.3" fill="#111">χ = 0.50</text>
<text x="295.10" y="310.10" font-size="5.3" fill="#111">χ = 0.60</text>
<text x="295.10" y="318.10" font-size="5.3" fill="#111">χ = 0.65</text>
<text x="440.50" y="186.70" font-size="5.4" text-anchor="middle" fill="#111">(<tspan font-style="italic">x̂</tspan><tspan font-size="4" dy="1.2">0</tspan><tspan dy="-1.2">, </tspan><tspan font-style="italic">ẑ</tspan><tspan font-size="4" dy="1.2">0</tspan><tspan dy="-1.2">) = (0.15, −0.31)</tspan></text>
<text x="372.90" y="332.20" font-size="5.6" stroke-width="0.06" text-anchor="middle" fill="#111">−1.0</text>
<text x="386.20" y="332.20" font-size="5.6" stroke-width="0.06" text-anchor="middle" fill="#111">−0.8</text>
<text x="399.50" y="332.20" font-size="5.6" stroke-width="0.06" text-anchor="middle" fill="#111">−0.6</text>
<text x="412.80" y="332.20" font-size="5.6" stroke-width="0.06" text-anchor="middle" fill="#111">−0.4</text>
<text x="426.10" y="332.20" font-size="5.6" stroke-width="0.06" text-anchor="middle" fill="#111">−0.2</text>
<text x="439.40" y="332.20" font-size="5.6" stroke-width="0.06" text-anchor="middle" fill="#111">0.0</text>
<text x="452.70" y="332.20" font-size="5.6" stroke-width="0.06" text-anchor="middle" fill="#111">0.2</text>
<text x="466.00" y="332.20" font-size="5.6" stroke-width="0.06" text-anchor="middle" fill="#111">0.4</text>
<text x="479.30" y="332.20" font-size="5.6" stroke-width="0.06" text-anchor="middle" fill="#111">0.6</text>
<text x="492.60" y="332.20" font-size="5.6" stroke-width="0.06" text-anchor="middle" fill="#111">0.8</text>
<text x="505.90" y="332.20" font-size="5.6" stroke-width="0.06" text-anchor="middle" fill="#111">1.0</text>
<text x="369.10" y="193.55" font-size="5.6" stroke-width="0.06" text-anchor="end" fill="#111">1.0</text>
<text x="369.10" y="206.84" font-size="5.6" stroke-width="0.06" text-anchor="end" fill="#111">0.8</text>
<text x="369.10" y="220.13" font-size="5.6" stroke-width="0.06" text-anchor="end" fill="#111">0.6</text>
<text x="369.10" y="233.42" font-size="5.6" stroke-width="0.06" text-anchor="end" fill="#111">0.4</text>
<text x="369.10" y="246.71" font-size="5.6" stroke-width="0.06" text-anchor="end" fill="#111">0.2</text>
<text x="369.10" y="260.00" font-size="5.6" stroke-width="0.06" text-anchor="end" fill="#111">0.0</text>
<text x="369.10" y="273.29" font-size="5.6" stroke-width="0.06" text-anchor="end" fill="#111">−0.2</text>
<text x="369.10" y="286.58" font-size="5.6" stroke-width="0.06" text-anchor="end" fill="#111">−0.4</text>
<text x="369.10" y="299.87" font-size="5.6" stroke-width="0.06" text-anchor="end" fill="#111">−0.6</text>
<text x="369.10" y="313.16" font-size="5.6" stroke-width="0.06" text-anchor="end" fill="#111">−0.8</text>
<text x="369.10" y="326.45" font-size="5.6" stroke-width="0.06" text-anchor="end" fill="#111">−1.0</text>
<text x="438.40" y="339.80" font-size="6.0" font-style="italic" text-anchor="middle" fill="#111" stroke-width="0">y</text><circle cx="439.37" cy="335.67" r="0.42" fill="#333"/>
<text x="353.90" y="260.85" font-size="6.0" font-style="italic" text-anchor="middle" fill="#111" stroke-width="0">z</text><circle cx="354.87" cy="256.72" r="0.42" fill="#333"/>
<text x="469.20" y="279.10" font-size="5.3" fill="#111">point particle</text>
<text x="469.20" y="287.10" font-size="5.3" fill="#111">χ = 0.35</text>
<text x="469.20" y="295.10" font-size="5.3" fill="#111">χ = 0.40</text>
<text x="469.20" y="302.10" font-size="5.3" fill="#111">χ = 0.50</text>
<text x="469.20" y="310.10" font-size="5.3" fill="#111">χ = 0.60</text>
<text x="469.20" y="318.10" font-size="5.3" fill="#111">χ = 0.65</text>
<text x="615.90" y="186.90" font-size="5.4" text-anchor="middle" fill="#111">(<tspan font-style="italic">x̂</tspan><tspan font-size="4" dy="1.2">0</tspan><tspan dy="-1.2">, </tspan><tspan font-style="italic">ẑ</tspan><tspan font-size="4" dy="1.2">0</tspan><tspan dy="-1.2">) = (0.15, 0.31)</tspan></text>
<text x="548.90" y="332.20" font-size="5.6" stroke-width="0.06" text-anchor="middle" fill="#111">−1.0</text>
<text x="562.20" y="332.20" font-size="5.6" stroke-width="0.06" text-anchor="middle" fill="#111">−0.8</text>
<text x="575.50" y="332.20" font-size="5.6" stroke-width="0.06" text-anchor="middle" fill="#111">−0.6</text>
<text x="588.80" y="332.20" font-size="5.6" stroke-width="0.06" text-anchor="middle" fill="#111">−0.4</text>
<text x="602.10" y="332.20" font-size="5.6" stroke-width="0.06" text-anchor="middle" fill="#111">−0.2</text>
<text x="615.40" y="332.20" font-size="5.6" stroke-width="0.06" text-anchor="middle" fill="#111">0.0</text>
<text x="628.70" y="332.20" font-size="5.6" stroke-width="0.06" text-anchor="middle" fill="#111">0.2</text>
<text x="642.00" y="332.20" font-size="5.6" stroke-width="0.06" text-anchor="middle" fill="#111">0.4</text>
<text x="655.30" y="332.20" font-size="5.6" stroke-width="0.06" text-anchor="middle" fill="#111">0.6</text>
<text x="668.60" y="332.20" font-size="5.6" stroke-width="0.06" text-anchor="middle" fill="#111">0.8</text>
<text x="681.90" y="332.20" font-size="5.6" stroke-width="0.06" text-anchor="middle" fill="#111">1.0</text>
<text x="545.10" y="193.55" font-size="5.6" stroke-width="0.06" text-anchor="end" fill="#111">1.0</text>
<text x="545.10" y="206.84" font-size="5.6" stroke-width="0.06" text-anchor="end" fill="#111">0.8</text>
<text x="545.10" y="220.13" font-size="5.6" stroke-width="0.06" text-anchor="end" fill="#111">0.6</text>
<text x="545.10" y="233.42" font-size="5.6" stroke-width="0.06" text-anchor="end" fill="#111">0.4</text>
<text x="545.10" y="246.71" font-size="5.6" stroke-width="0.06" text-anchor="end" fill="#111">0.2</text>
<text x="545.10" y="260.00" font-size="5.6" stroke-width="0.06" text-anchor="end" fill="#111">0.0</text>
<text x="545.10" y="273.29" font-size="5.6" stroke-width="0.06" text-anchor="end" fill="#111">−0.2</text>
<text x="545.10" y="286.58" font-size="5.6" stroke-width="0.06" text-anchor="end" fill="#111">−0.4</text>
<text x="545.10" y="299.87" font-size="5.6" stroke-width="0.06" text-anchor="end" fill="#111">−0.6</text>
<text x="545.10" y="313.16" font-size="5.6" stroke-width="0.06" text-anchor="end" fill="#111">−0.8</text>
<text x="545.10" y="326.45" font-size="5.6" stroke-width="0.06" text-anchor="end" fill="#111">−1.0</text>
<text x="614.40" y="339.80" font-size="6.0" font-style="italic" text-anchor="middle" fill="#111" stroke-width="0">y</text><circle cx="615.37" cy="335.67" r="0.42" fill="#333"/>
<text x="529.90" y="260.85" font-size="6.0" font-style="italic" text-anchor="middle" fill="#111" stroke-width="0">z</text><circle cx="530.87" cy="256.72" r="0.42" fill="#333"/>
<text x="566.30" y="280.10" font-size="5.3" fill="#111">point particle</text>
<text x="566.30" y="287.10" font-size="5.3" fill="#111">χ = 0.35</text>
<text x="566.30" y="295.10" font-size="5.3" fill="#111">χ = 0.40</text>
<text x="566.30" y="303.10" font-size="5.3" fill="#111">χ = 0.50</text>
<text x="566.30" y="310.10" font-size="5.3" fill="#111">χ = 0.60</text>
<text x="566.30" y="318.10" font-size="5.3" fill="#111">χ = 0.65</text>
</g>
<g opacity="0.99" style="will-change:transform">
<text x="-0.6" y="10.6" font-size="15" font-weight="bold" fill="#000">a</text>
<text x="175.4" y="10.6" font-size="15" font-weight="bold" fill="#000">b</text>
<text x="348.0" y="10.9" font-size="15" font-weight="bold" fill="#000">c</text>
<text x="523.9" y="10.9" font-size="15" font-weight="bold" fill="#000">d</text>
<text x="-0.3" y="187.6" font-size="15" font-weight="bold" fill="#000">e</text>
<text x="175.3" y="187.6" font-size="15" font-weight="bold" fill="#000">f</text>
<text x="348.2" y="187.6" font-size="15" font-weight="bold" fill="#000">g</text>
<text x="524.0" y="187.8" font-size="15" font-weight="bold" fill="#000">h</text>
</g></svg>
</body></html>
